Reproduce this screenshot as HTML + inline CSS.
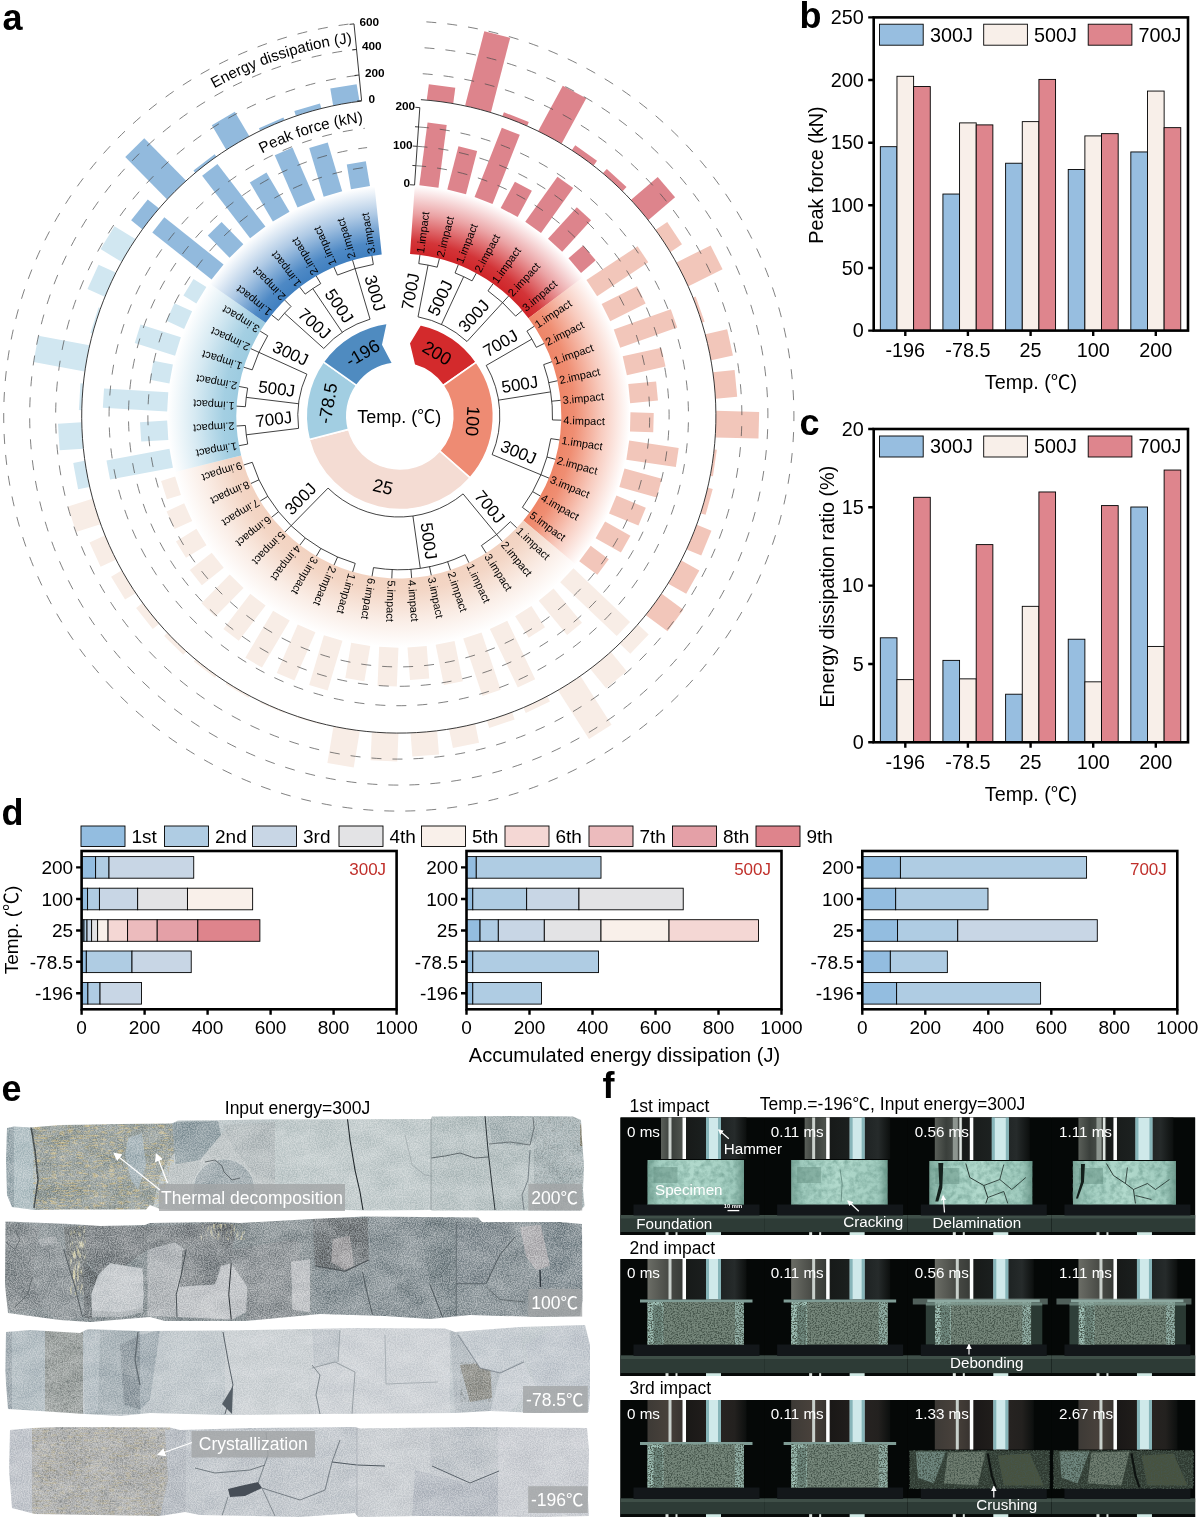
<!DOCTYPE html>
<html lang="en"><head><meta charset="utf-8"><title>Figure</title>
<style>
html,body{margin:0;padding:0;background:#fff}
svg{display:block}
svg text{font-family:'Liberation Sans', 'Noto Sans CJK SC', sans-serif }
</style></head><body>
<svg width="1200" height="1522" viewBox="0 0 1200 1522" font-family="'Liberation Sans', 'Noto Sans CJK SC', sans-serif">
<rect width="1200" height="1522" fill="#fff"/>
<g id="panelA">
<defs>
<radialGradient id="bg200" gradientUnits="userSpaceOnUse" cx="398.8" cy="416" r="231"><stop offset="0.7" stop-color="#cf2327"/><stop offset="0.76" stop-color="#cf2327" stop-opacity="0.92"/><stop offset="0.88" stop-color="#cf2327" stop-opacity="0.42"/><stop offset="1" stop-color="#cf2327" stop-opacity="0"/></radialGradient>
<radialGradient id="bg100" gradientUnits="userSpaceOnUse" cx="398.8" cy="416" r="231"><stop offset="0.7" stop-color="#ee8466"/><stop offset="0.76" stop-color="#ee8466" stop-opacity="0.92"/><stop offset="0.88" stop-color="#ee8466" stop-opacity="0.42"/><stop offset="1" stop-color="#ee8466" stop-opacity="0"/></radialGradient>
<radialGradient id="bg25" gradientUnits="userSpaceOnUse" cx="398.8" cy="416" r="231"><stop offset="0.7" stop-color="#f2d2c0"/><stop offset="0.76" stop-color="#f2d2c0" stop-opacity="0.92"/><stop offset="0.88" stop-color="#f2d2c0" stop-opacity="0.42"/><stop offset="1" stop-color="#f2d2c0" stop-opacity="0"/></radialGradient>
<radialGradient id="bgm78_5" gradientUnits="userSpaceOnUse" cx="398.8" cy="416" r="231"><stop offset="0.7" stop-color="#9ccbe0"/><stop offset="0.76" stop-color="#9ccbe0" stop-opacity="0.92"/><stop offset="0.88" stop-color="#9ccbe0" stop-opacity="0.42"/><stop offset="1" stop-color="#9ccbe0" stop-opacity="0"/></radialGradient>
<radialGradient id="bgm196" gradientUnits="userSpaceOnUse" cx="398.8" cy="416" r="231"><stop offset="0.7" stop-color="#3f7fc0"/><stop offset="0.76" stop-color="#3f7fc0" stop-opacity="0.92"/><stop offset="0.88" stop-color="#3f7fc0" stop-opacity="0.42"/><stop offset="1" stop-color="#3f7fc0" stop-opacity="0"/></radialGradient>
</defs>
<path d="M414.79 185.55A231 231 0 0 1 583.21 276.88L528.53 318.14A162.5 162.5 0 0 0 410.05 253.89Z" fill="url(#bg200)"/>
<path d="M583.21 276.88A231 231 0 0 1 575.83 564.39L523.34 520.39A162.5 162.5 0 0 0 528.53 318.14Z" fill="url(#bg100)"/>
<path d="M575.83 564.39A231 231 0 0 1 174.69 472L241.15 455.39A162.5 162.5 0 0 0 523.34 520.39Z" fill="url(#bg25)"/>
<path d="M174.69 472A231 231 0 0 1 209.51 283.6L265.64 322.86A162.5 162.5 0 0 0 241.15 455.39Z" fill="url(#bgm78_5)"/>
<path d="M209.51 283.6A231 231 0 0 1 374.53 186.28L381.73 254.4A162.5 162.5 0 0 0 265.64 322.86Z" fill="url(#bgm196)"/>
<g transform="translate(398.8 416) rotate(7.47)" fill="#dd848c"><rect x="-9.65" y="-294.74" width="19.3" height="63.24"/><rect x="-13.35" y="-332.83" width="26.7" height="15.73"/></g>
<g transform="translate(398.8 416) rotate(14.47)" fill="#dd848c"><rect x="-9.65" y="-276.12" width="19.3" height="44.62"/><rect x="-13.35" y="-393.93" width="26.7" height="76.83"/></g>
<g transform="translate(398.8 416) rotate(21.47)" fill="#dd848c"><rect x="-9.65" y="-306" width="19.3" height="74.5"/><rect x="-13.35" y="-321.13" width="26.7" height="4.03"/></g>
<g transform="translate(398.8 416) rotate(28.47)" fill="#dd848c"><rect x="-9.65" y="-261.38" width="19.3" height="29.88"/><rect x="-13.35" y="-368.58" width="26.7" height="51.48"/></g>
<g transform="translate(398.8 416) rotate(35.47)" fill="#dd848c"><rect x="-9.65" y="-286.98" width="19.3" height="55.48"/><rect x="-13.35" y="-322.82" width="26.7" height="5.72"/></g>
<g transform="translate(398.8 416) rotate(42.47)" fill="#dd848c"><rect x="-9.65" y="-274.18" width="19.3" height="42.68"/><rect x="-13.35" y="-322.69" width="26.7" height="5.59"/></g>
<g transform="translate(398.8 416) rotate(49.47)" fill="#dd848c"><rect x="-9.65" y="-250.9" width="19.3" height="19.4"/><rect x="-13.35" y="-352.07" width="26.7" height="34.97"/></g>
<g transform="translate(398.8 416) rotate(56.47)" fill="#f2c6ba"><rect x="-9.65" y="-292.8" width="19.3" height="61.3"/><rect x="-13.35" y="-330.88" width="26.7" height="13.78"/></g>
<g transform="translate(398.8 416) rotate(63.47)" fill="#f2c6ba"><rect x="-9.65" y="-271.08" width="19.3" height="39.58"/><rect x="-13.35" y="-355.19" width="26.7" height="38.09"/></g>
<g transform="translate(398.8 416) rotate(70.47)" fill="#f2c6ba"><rect x="-9.65" y="-292.03" width="19.3" height="60.53"/><rect x="-13.35" y="-319.7" width="26.7" height="2.6"/></g>
<g transform="translate(398.8 416) rotate(77.47)" fill="#f2c6ba"><rect x="-9.65" y="-271.08" width="19.3" height="39.58"/><rect x="-13.35" y="-339.33" width="26.7" height="22.23"/></g>
<g transform="translate(398.8 416) rotate(84.47)" fill="#f2c6ba"><rect x="-9.65" y="-259.44" width="19.3" height="27.94"/><rect x="-13.35" y="-338.68" width="26.7" height="21.58"/></g>
<g transform="translate(398.8 416) rotate(91.47)" fill="#f2c6ba"><rect x="-9.65" y="-254.78" width="19.3" height="23.28"/><rect x="-13.35" y="-360.13" width="26.7" height="43.03"/></g>
<g transform="translate(398.8 416) rotate(98.47)" fill="#f2c6ba"><rect x="-9.65" y="-281.55" width="19.3" height="50.05"/><rect x="-13.35" y="-319.57" width="26.7" height="2.47"/></g>
<g transform="translate(398.8 416) rotate(105.47)" fill="#f2c6ba"><rect x="-9.65" y="-270.3" width="19.3" height="38.8"/><rect x="-13.35" y="-322.04" width="26.7" height="4.94"/></g>
<g transform="translate(398.8 416) rotate(112.47)" fill="#f2c6ba"><rect x="-9.65" y="-263.32" width="19.3" height="31.82"/><rect x="-13.35" y="-332.83" width="26.7" height="15.73"/></g>
<g transform="translate(398.8 416) rotate(119.47)" fill="#f2c6ba"><rect x="-9.65" y="-260.6" width="19.3" height="29.1"/><rect x="-13.35" y="-337.64" width="26.7" height="20.54"/></g>
<g transform="translate(398.8 416) rotate(126.47)" fill="#f2c6ba"><rect x="-9.65" y="-254" width="19.3" height="22.5"/><rect x="-13.35" y="-344.01" width="26.7" height="26.91"/></g>
<g transform="translate(398.8 416) rotate(133.47)" fill="#f8ede6"><rect x="-9.65" y="-309.49" width="19.3" height="77.99"/><rect x="-13.35" y="-331.66" width="26.7" height="14.56"/></g>
<g transform="translate(398.8 416) rotate(140.47)" fill="#f8ede6"><rect x="-9.65" y="-276.12" width="19.3" height="44.62"/><rect x="-13.35" y="-341.93" width="26.7" height="24.83"/></g>
<g transform="translate(398.8 416) rotate(147.47)" fill="#f8ede6"><rect x="-9.65" y="-256.72" width="19.3" height="25.22"/><rect x="-13.35" y="-374.69" width="26.7" height="57.59"/></g>
<g transform="translate(398.8 416) rotate(154.47)" fill="#f8ede6"><rect x="-9.65" y="-296.3" width="19.3" height="64.8"/><rect x="-13.35" y="-322.69" width="26.7" height="5.59"/></g>
<g transform="translate(398.8 416) rotate(161.47)" fill="#f8ede6"><rect x="-9.65" y="-292.03" width="19.3" height="60.53"/><rect x="-13.35" y="-324.64" width="26.7" height="7.54"/></g>
<g transform="translate(398.8 416) rotate(168.47)" fill="#f8ede6"><rect x="-9.65" y="-272.63" width="19.3" height="41.13"/><rect x="-13.35" y="-336.08" width="26.7" height="18.98"/></g>
<g transform="translate(398.8 416) rotate(175.47)" fill="#f8ede6"><rect x="-9.65" y="-264.09" width="19.3" height="32.59"/><rect x="-13.35" y="-340.5" width="26.7" height="23.4"/></g>
<g transform="translate(398.8 416) rotate(182.47)" fill="#f8ede6"><rect x="-9.65" y="-270.3" width="19.3" height="38.8"/><rect x="-13.35" y="-345.18" width="26.7" height="28.08"/></g>
<g transform="translate(398.8 416) rotate(189.47)" fill="#f8ede6"><rect x="-9.65" y="-267.2" width="19.3" height="35.7"/><rect x="-13.35" y="-354.02" width="26.7" height="36.92"/></g>
<g transform="translate(398.8 416) rotate(196.47)" fill="#f8ede6"><rect x="-9.65" y="-283.49" width="19.3" height="51.99"/><rect x="-13.35" y="-318.09" width="26.7" height="0.99"/></g>
<g transform="translate(398.8 416) rotate(203.47)" fill="#f8ede6"><rect x="-9.65" y="-284.27" width="19.3" height="52.77"/><rect x="-13.35" y="-318.35" width="26.7" height="1.25"/></g>
<g transform="translate(398.8 416) rotate(210.47)" fill="#f8ede6"><rect x="-9.65" y="-286.21" width="19.3" height="54.71"/><rect x="-13.35" y="-319" width="26.7" height="1.9"/></g>
<g transform="translate(398.8 416) rotate(217.47)" fill="#f8ede6"><rect x="-9.65" y="-275.73" width="19.3" height="44.23"/><rect x="-13.35" y="-319.57" width="26.7" height="2.47"/></g>
<g transform="translate(398.8 416) rotate(224.47)" fill="#f8ede6"><rect x="-9.65" y="-271.85" width="19.3" height="40.35"/><rect x="-13.35" y="-321.39" width="26.7" height="4.29"/></g>
<g transform="translate(398.8 416) rotate(231.47)" fill="#f8ede6"><rect x="-9.65" y="-259.44" width="19.3" height="27.94"/><rect x="-13.35" y="-325.16" width="26.7" height="8.06"/></g>
<g transform="translate(398.8 416) rotate(238.47)" fill="#f8ede6"><rect x="-9.65" y="-255.56" width="19.3" height="24.06"/><rect x="-13.35" y="-329.32" width="26.7" height="12.22"/></g>
<g transform="translate(398.8 416) rotate(245.47)" fill="#f8ede6"><rect x="-9.65" y="-250.9" width="19.3" height="19.4"/><rect x="-13.35" y="-333.87" width="26.7" height="16.77"/></g>
<g transform="translate(398.8 416) rotate(252.47)" fill="#f8ede6"><rect x="-9.65" y="-246.24" width="19.3" height="14.74"/><rect x="-13.35" y="-342.71" width="26.7" height="25.61"/></g>
<g transform="translate(398.8 416) rotate(259.47)" fill="#d1e7f1"><rect x="-9.65" y="-295.52" width="19.3" height="64.02"/><rect x="-13.35" y="-328.67" width="26.7" height="11.57"/></g>
<g transform="translate(398.8 416) rotate(266.47)" fill="#d1e7f1"><rect x="-9.65" y="-258.66" width="19.3" height="27.16"/><rect x="-13.35" y="-340.63" width="26.7" height="23.53"/></g>
<g transform="translate(398.8 416) rotate(273.47)" fill="#d1e7f1"><rect x="-9.65" y="-295.91" width="19.3" height="64.41"/><rect x="-13.35" y="-319.7" width="26.7" height="2.6"/></g>
<g transform="translate(398.8 416) rotate(280.47)" fill="#d1e7f1"><rect x="-9.65" y="-251.29" width="19.3" height="19.79"/><rect x="-13.35" y="-368.97" width="26.7" height="51.87"/></g>
<g transform="translate(398.8 416) rotate(287.47)" fill="#d1e7f1"><rect x="-9.65" y="-273.79" width="19.3" height="42.29"/><rect x="-13.35" y="-319.05" width="26.7" height="1.95"/></g>
<g transform="translate(398.8 416) rotate(294.47)" fill="#d1e7f1"><rect x="-9.65" y="-250.9" width="19.3" height="19.4"/><rect x="-13.35" y="-335.95" width="26.7" height="18.85"/></g>
<g transform="translate(398.8 416) rotate(301.47)" fill="#d1e7f1"><rect x="-9.65" y="-246.63" width="19.3" height="15.13"/><rect x="-13.35" y="-341.54" width="26.7" height="24.44"/></g>
<g transform="translate(398.8 416) rotate(308.47)" fill="#92badd"><rect x="-9.65" y="-307.16" width="19.3" height="75.66"/><rect x="-13.35" y="-331.27" width="26.7" height="14.17"/></g>
<g transform="translate(398.8 416) rotate(315.47)" fill="#92badd"><rect x="-9.65" y="-262.54" width="19.3" height="31.04"/><rect x="-13.35" y="-376.51" width="26.7" height="59.41"/></g>
<g transform="translate(398.8 416) rotate(322.47)" fill="#92badd"><rect x="-9.65" y="-310.26" width="19.3" height="78.76"/><rect x="-13.35" y="-319.7" width="26.7" height="2.6"/></g>
<g transform="translate(398.8 416) rotate(329.47)" fill="#92badd"><rect x="-9.65" y="-276.9" width="19.3" height="45.4"/><rect x="-13.35" y="-345.44" width="26.7" height="28.34"/></g>
<g transform="translate(398.8 416) rotate(336.47)" fill="#92badd"><rect x="-9.65" y="-288.54" width="19.3" height="57.04"/><rect x="-13.35" y="-319.7" width="26.7" height="2.6"/></g>
<g transform="translate(398.8 416) rotate(343.47)" fill="#92badd"><rect x="-9.65" y="-282.33" width="19.3" height="50.83"/><rect x="-13.35" y="-322.11" width="26.7" height="5"/></g>
<g transform="translate(398.8 416) rotate(350.47)" fill="#92badd"><rect x="-9.65" y="-256.72" width="19.3" height="25.22"/><rect x="-13.35" y="-334.2" width="26.7" height="17.09"/></g>
<g fill="none" stroke="#4a4a4a" stroke-width="0.7">
<path d="M416.3 165.71A250.9 250.9 0 1 1 369.35 166.83" stroke-dasharray="10 11"/>
<path d="M417.66 146.36A270.3 270.3 0 1 1 367.08 147.57" stroke-dasharray="10 11"/>
<path d="M419.01 127.01A289.7 289.7 0 1 1 364.8 128.3" stroke-dasharray="10 11"/>
<path d="M422.73 73.74A343.1 343.1 0 1 1 358.53 75.27" stroke-dasharray="10 11"/>
<path d="M424.55 47.8A369.1 369.1 0 1 1 355.48 49.45" stroke-dasharray="10 11"/>
<path d="M426.36 21.86A395.1 395.1 0 1 1 352.43 23.63" stroke-dasharray="10 11"/>
<path d="M420.92 99.67A317.1 317.1 0 1 1 361.58 101.09" stroke="#222" stroke-width="0.9"/>
</g>
<g stroke="#222" stroke-width="0.9" fill="none">
<path d="M361.6 100.6L354 23.9"/>
<path d="M361.6 100.6L357.12 101.05"/>
<path d="M359.07 75.03L354.59 75.49"/>
<path d="M356.53 49.47L352.06 49.92"/>
<path d="M354 23.9L349.52 24.35"/>
<path d="M414.55 185.04L419.82 107.62"/>
<path d="M414.55 185.04L410.06 184.73"/>
<path d="M415.87 165.68L412.37 165.44"/>
<path d="M417.18 146.33L412.69 146.02"/>
<path d="M418.5 126.97L415.01 126.73"/>
<path d="M419.82 107.62L415.33 107.31"/>
</g>
<text x="359.5" y="26.2" font-size="11.8" font-weight="bold">600</text>
<text x="362" y="50.2" font-size="11.8" font-weight="bold">400</text>
<text x="365" y="76.7" font-size="11.8" font-weight="bold">200</text>
<text x="368.5" y="103.2" font-size="11.8" font-weight="bold">0</text>
<text x="415.2" y="110" font-size="11.8" text-anchor="end" font-weight="bold">200</text>
<text x="412.6" y="148.8" font-size="11.8" text-anchor="end" font-weight="bold">100</text>
<text x="410" y="187.3" font-size="11.8" text-anchor="end" font-weight="bold">0</text>
<path id="cpE" d="M73.17 228A376 376 0 0 1 352.33 42.88" fill="none"/>
<path id="cpP" d="M142.46 268A296 296 0 0 1 363.24 122.14" fill="none"/>
<text font-size="15.2" text-anchor="end"><textPath href="#cpE" startOffset="100%">Energy dissipation (J)</textPath></text>
<text font-size="15.3" text-anchor="end"><textPath href="#cpP" startOffset="100%">Peak force (kN)</textPath></text>
<text transform="translate(416.21 292.56) rotate(-79.03)" font-size="17" text-anchor="middle">700J</text>
<text transform="translate(445.56 300.44) rotate(-65.03)" font-size="17" text-anchor="middle">500J</text>
<text transform="translate(478.14 319.84) rotate(-47.53)" font-size="17" text-anchor="middle">300J</text>
<text transform="translate(503.38 348.15) rotate(-30.03)" font-size="17" text-anchor="middle">700J</text>
<text transform="translate(520.75 390.14) rotate(-9.03)" font-size="17" text-anchor="middle">500J</text>
<text transform="translate(516.29 457.67) rotate(22.47)" font-size="17" text-anchor="middle">300J</text>
<text transform="translate(485.21 510.65) rotate(50.47)" font-size="17" text-anchor="middle">700J</text>
<text transform="translate(423.02 541.85) rotate(81.97)" font-size="17" text-anchor="middle">500J</text>
<text transform="translate(304.56 502.86) rotate(314.47)" font-size="17" text-anchor="middle">300J</text>
<text transform="translate(274.45 424.89) rotate(352.97)" font-size="17" text-anchor="middle">700J</text>
<text transform="translate(276 394.54) rotate(366.97)" font-size="17" text-anchor="middle">500J</text>
<text transform="translate(288.13 358.6) rotate(384.47)" font-size="17" text-anchor="middle">300J</text>
<text transform="translate(310.51 327.98) rotate(401.97)" font-size="17" text-anchor="middle">700J</text>
<text transform="translate(334.43 309.24) rotate(415.97)" font-size="17" text-anchor="middle">500J</text>
<text transform="translate(369.51 294.82) rotate(433.47)" font-size="17" text-anchor="middle">300J</text>
<path d="M419.93 254.88L418.78 263.6M439.4 258.65L437.21 267.18M418.78 263.6A153.7 153.7 0 0 1 437.21 267.18M428.05 265.11L418.02 316.85M458.28 264.78L455.06 272.97M476.26 273.15L472.07 280.89M455.06 272.97A153.7 153.7 0 0 1 472.07 280.89M463.68 276.67L441.44 324.44M493.09 283.66L487.99 290.82M508.52 296.13L502.58 302.63M522.31 310.4L515.62 316.12M487.99 290.82A153.7 153.7 0 0 1 515.62 316.12M502.58 302.63L467 341.5M418.02 316.85A101 101 0 0 1 467 341.5M534.26 326.24L526.92 331.1M544.19 343.42L536.32 347.35M526.92 331.1A153.7 153.7 0 0 1 536.32 347.35M531.87 339.08L486.24 365.45M551.95 361.68L543.66 364.62M557.43 380.75L548.84 382.65M560.54 400.34L551.78 401.19M561.25 420.17L552.45 419.94M543.66 364.62A153.7 153.7 0 0 1 552.45 419.94M550.6 391.88L498.55 400.15M559.53 439.93L550.82 438.64M555.41 459.34L546.93 457M548.96 478.11L540.83 474.74M540.27 495.94L532.61 491.62M529.48 512.59L522.4 507.36M550.82 438.64A153.7 153.7 0 0 1 522.4 507.36M540.83 474.74L492.13 454.6M486.24 365.45A101 101 0 0 1 492.13 454.6M516.73 527.8L510.35 521.74M502.23 541.33L496.63 534.55M486.18 553.01L481.45 545.59M510.35 521.74A153.7 153.7 0 0 1 481.45 545.59M496.63 534.55L463.08 493.9M468.83 562.63L465.04 554.69M450.44 570.08L447.65 561.73M431.28 575.22L429.52 566.6M411.63 577.99L410.94 569.22M391.8 578.35L392.18 569.56M372.06 576.29L373.51 567.61M465.04 554.69A153.7 153.7 0 0 1 373.51 567.61M420.27 568.19L412.91 516.01M352.73 571.83L355.22 563.39M334.08 565.06L337.59 556.98M316.4 556.06L320.86 548.47M299.94 544.97L305.3 537.99M284.96 531.96L291.13 525.68M271.68 517.23L278.56 511.74M260.29 500.98L267.79 496.38M250.97 483.47L258.97 479.81M243.85 464.95L252.24 462.3M355.22 563.39A153.7 153.7 0 0 1 252.24 462.3M291.13 525.68L328.05 488.08M463.08 493.9A101 101 0 0 1 328.05 488.08M239.04 445.7L247.69 444.09M236.61 426.01L245.39 425.46M247.69 444.09A153.7 153.7 0 0 1 245.39 425.46M246.26 434.81L298.56 428.36M236.6 406.16L245.38 406.7M239.01 386.47L247.66 388.07M245.38 406.7A153.7 153.7 0 0 1 247.66 388.07M246.24 397.35L298.55 403.74M243.8 367.22L252.19 369.86M250.9 348.69L258.91 352.33M260.2 331.17L267.71 335.76M252.19 369.86A153.7 153.7 0 0 1 267.71 335.76M258.91 352.33L306.87 374.16M298.56 428.36A101 101 0 0 1 306.87 374.16M271.57 314.91L278.46 320.38M284.84 300.16L291.01 306.43M278.46 320.38A153.7 153.7 0 0 1 291.01 306.43M284.52 313.21L323.71 348.46M299.81 287.13L305.17 294.11M316.25 276.03L320.72 283.61M305.17 294.11A153.7 153.7 0 0 1 320.72 283.61M312.79 288.62L342.28 332.3M333.93 267.01L337.44 275.08M352.57 260.22L355.07 268.65M371.9 255.74L373.35 264.42M337.44 275.08A153.7 153.7 0 0 1 373.35 264.42M355.07 268.65L370.06 319.17M323.71 348.46A101 101 0 0 1 370.06 319.17" fill="none" stroke="#111" stroke-width="0.8"/>
<text transform="translate(424.05 253.4) rotate(-82.53)" font-size="11">1.impact</text>
<text transform="translate(443.68 257.69) rotate(-75.53)" font-size="11">2.impact</text>
<text transform="translate(462.64 264.34) rotate(-68.53)" font-size="11">1.impact</text>
<text transform="translate(480.65 273.25) rotate(-61.53)" font-size="11">2.impact</text>
<text transform="translate(497.43 284.29) rotate(-54.53)" font-size="11">1.impact</text>
<text transform="translate(512.75 297.29) rotate(-47.53)" font-size="11">2.impact</text>
<text transform="translate(526.37 312.06) rotate(-40.53)" font-size="11">3.impact</text>
<text transform="translate(538.08 328.39) rotate(-33.53)" font-size="11">1.impact</text>
<text transform="translate(547.72 346.01) rotate(-26.53)" font-size="11">2.impact</text>
<text transform="translate(555.14 364.68) rotate(-19.53)" font-size="11">1.impact</text>
<text transform="translate(560.23 384.12) rotate(-12.53)" font-size="11">2.impact</text>
<text transform="translate(562.91 404.03) rotate(-5.53)" font-size="11">3.impact</text>
<text transform="translate(563.15 424.12) rotate(1.47)" font-size="11">4.impact</text>
<text transform="translate(560.93 444.09) rotate(8.47)" font-size="11">1.impact</text>
<text transform="translate(556.3 463.64) rotate(15.47)" font-size="11">2.impact</text>
<text transform="translate(549.32 482.48) rotate(22.47)" font-size="11">3.impact</text>
<text transform="translate(540.1 500.32) rotate(29.47)" font-size="11">4.impact</text>
<text transform="translate(528.77 516.92) rotate(36.47)" font-size="11">5.impact</text>
<text transform="translate(515.5 532) rotate(43.47)" font-size="11">1.impact</text>
<text transform="translate(500.49 545.36) rotate(50.47)" font-size="11">2.impact</text>
<text transform="translate(483.97 556.79) rotate(57.47)" font-size="11">3.impact</text>
<text transform="translate(466.18 566.12) rotate(64.47)" font-size="11">1.impact</text>
<text transform="translate(447.38 573.21) rotate(71.47)" font-size="11">2.impact</text>
<text transform="translate(427.86 577.96) rotate(78.47)" font-size="11">3.impact</text>
<text transform="translate(407.9 580.29) rotate(85.47)" font-size="11">4.impact</text>
<text transform="translate(387.81 580.18) rotate(92.47)" font-size="11">5.impact</text>
<text transform="translate(367.89 577.62) rotate(99.47)" font-size="11">6.impact</text>
<text transform="translate(348.42 572.64) rotate(106.47)" font-size="11">1.impact</text>
<text transform="translate(329.71 565.34) rotate(113.47)" font-size="11">2.impact</text>
<text transform="translate(312.02 555.8) rotate(120.47)" font-size="11">3.impact</text>
<text transform="translate(295.63 544.19) rotate(127.47)" font-size="11">4.impact</text>
<text transform="translate(280.78 530.66) rotate(134.47)" font-size="11">5.impact</text>
<text transform="translate(267.69 515.42) rotate(141.47)" font-size="11">6.impact</text>
<text transform="translate(256.55 498.7) rotate(148.47)" font-size="11">7.impact</text>
<text transform="translate(247.53 480.75) rotate(155.47)" font-size="11">8.impact</text>
<text transform="translate(240.76 461.83) rotate(162.47)" font-size="11">9.impact</text>
<text transform="translate(236.36 442.23) rotate(169.47)" font-size="11">1.impact</text>
<text transform="translate(234.37 422.24) rotate(176.47)" font-size="11">2.impact</text>
<text transform="translate(234.84 402.15) rotate(183.47)" font-size="11">1.impact</text>
<text transform="translate(237.75 382.27) rotate(190.47)" font-size="11">2.impact</text>
<text transform="translate(243.06 362.9) rotate(197.47)" font-size="11">1.impact</text>
<text transform="translate(250.69 344.31) rotate(204.47)" font-size="11">2.impact</text>
<text transform="translate(260.53 326.8) rotate(211.47)" font-size="11">3.impact</text>
<text transform="translate(272.43 310.61) rotate(218.47)" font-size="11">1.impact</text>
<text transform="translate(286.22 296) rotate(225.47)" font-size="11">2.impact</text>
<text transform="translate(301.68 283.17) rotate(232.47)" font-size="11">1.impact</text>
<text transform="translate(318.6 272.32) rotate(239.47)" font-size="11">2.impact</text>
<text transform="translate(336.7 263.62) rotate(246.47)" font-size="11">1.impact</text>
<text transform="translate(355.74 257.19) rotate(253.47)" font-size="11">2.impact</text>
<text transform="translate(375.41 253.12) rotate(260.47)" font-size="11">3.impact</text>
<path d="M409.11 343.29L420.38 324.69A93.6 93.6 0 0 1 476.38 362.18L443.16 385.52A53 53 0 0 0 414.32 365.03Z" fill="#d32a2c" stroke="#fff" stroke-width="1.6" stroke-linejoin="miter"/>
<path d="M476.38 362.18A93.6 93.6 0 0 1 470.12 477.78L439.62 450.98A53 53 0 0 0 443.16 385.52Z" fill="#ee8b73" stroke="#fff" stroke-width="1.6" stroke-linejoin="miter"/>
<path d="M470.12 477.78A93.6 93.6 0 0 1 309.22 439.59L348.51 429.36A53 53 0 0 0 439.62 450.98Z" fill="#f4dcd3" stroke="#fff" stroke-width="1.6" stroke-linejoin="miter"/>
<path d="M309.22 439.59A93.6 93.6 0 0 1 323.41 361.91L356.54 385.37A53 53 0 0 0 348.51 429.36Z" fill="#a2cee2" stroke="#fff" stroke-width="1.6" stroke-linejoin="miter"/>
<path d="M323.41 361.91A93.6 93.6 0 0 1 387.42 323.22L382.81 344.7L392.7 363.48A53 53 0 0 0 356.54 385.37Z" fill="#4f8bc0" stroke="#fff" stroke-width="1.6" stroke-linejoin="miter"/>
<text transform="translate(433.85 358.42) rotate(30.6)" font-size="18" text-anchor="middle">200</text>
<text transform="translate(466.54 420.67) rotate(94)" font-size="18" text-anchor="middle">100</text>
<text transform="translate(381.38 492.72) rotate(13.5)" font-size="18" text-anchor="middle">25</text>
<text transform="translate(333.92 404.38) rotate(280)" font-size="18" text-anchor="middle">-78.5</text>
<text transform="translate(365.85 358.36) rotate(329.5)" font-size="18" text-anchor="middle">-196</text>
<text x="399.3" y="423.3" font-size="18" text-anchor="middle">Temp. (℃)</text>
<text x="2.5" y="29.5" font-size="36" font-weight="bold">a</text>
</g>
<g>
<rect x="880.32" y="146.69" width="16.65" height="183.91" fill="#97bee0" stroke="#000" stroke-width="0.9"/>
<rect x="896.97" y="76.28" width="16.65" height="254.32" fill="#f8efe9" stroke="#000" stroke-width="0.9"/>
<rect x="913.62" y="86.55" width="16.65" height="244.05" fill="#de858d" stroke="#000" stroke-width="0.9"/>
<rect x="942.92" y="194.04" width="16.65" height="136.56" fill="#97bee0" stroke="#000" stroke-width="0.9"/>
<rect x="959.57" y="122.89" width="16.65" height="207.71" fill="#f8efe9" stroke="#000" stroke-width="0.9"/>
<rect x="976.22" y="124.89" width="16.65" height="205.71" fill="#de858d" stroke="#000" stroke-width="0.9"/>
<rect x="1005.62" y="163.23" width="16.65" height="167.37" fill="#97bee0" stroke="#000" stroke-width="0.9"/>
<rect x="1022.27" y="121.63" width="16.65" height="208.97" fill="#f8efe9" stroke="#000" stroke-width="0.9"/>
<rect x="1038.92" y="79.41" width="16.65" height="251.19" fill="#de858d" stroke="#000" stroke-width="0.9"/>
<rect x="1068.23" y="169.49" width="16.65" height="161.11" fill="#97bee0" stroke="#000" stroke-width="0.9"/>
<rect x="1084.88" y="135.91" width="16.65" height="194.69" fill="#f8efe9" stroke="#000" stroke-width="0.9"/>
<rect x="1101.53" y="133.66" width="16.65" height="196.94" fill="#de858d" stroke="#000" stroke-width="0.9"/>
<rect x="1130.83" y="151.95" width="16.65" height="178.65" fill="#97bee0" stroke="#000" stroke-width="0.9"/>
<rect x="1147.48" y="91.06" width="16.65" height="239.54" fill="#f8efe9" stroke="#000" stroke-width="0.9"/>
<rect x="1164.12" y="127.65" width="16.65" height="202.95" fill="#de858d" stroke="#000" stroke-width="0.9"/>
<rect x="873.7" y="17.4" width="314.3" height="313.2" fill="none" stroke="#000" stroke-width="2.6"/>
<text x="863.7" y="337.4" font-size="19.8" text-anchor="end">0</text>
<text x="863.7" y="274.76" font-size="19.8" text-anchor="end">50</text>
<text x="863.7" y="212.12" font-size="19.8" text-anchor="end">100</text>
<text x="863.7" y="149.48" font-size="19.8" text-anchor="end">150</text>
<text x="863.7" y="86.84" font-size="19.8" text-anchor="end">200</text>
<text x="863.7" y="24.2" font-size="19.8" text-anchor="end">250</text>
<text x="905.3" y="356.9" font-size="19.8" text-anchor="middle">-196</text>
<text x="967.9" y="356.9" font-size="19.8" text-anchor="middle">-78.5</text>
<text x="1030.6" y="356.9" font-size="19.8" text-anchor="middle">25</text>
<text x="1093.2" y="356.9" font-size="19.8" text-anchor="middle">100</text>
<text x="1155.8" y="356.9" font-size="19.8" text-anchor="middle">200</text>
<path d="M873.7 330.6h-5.5M873.7 267.96h-5.5M873.7 205.32h-5.5M873.7 142.68h-5.5M873.7 80.04h-5.5M873.7 17.4h-5.5M905.3 330.6v5.5M967.9 330.6v5.5M1030.6 330.6v5.5M1093.2 330.6v5.5M1155.8 330.6v5.5" stroke="#000" stroke-width="2.4" fill="none"/>
<text x="1031" y="388.9" font-size="19.8" text-anchor="middle">Temp. (℃)</text>
<text transform="translate(822.5 175) rotate(-90)" font-size="19.8" text-anchor="middle">Peak force (kN)</text>
<rect x="879.5" y="24.2" width="43.7" height="21" fill="#97bee0" stroke="#000" stroke-width="0.9"/>
<text x="930" y="41.6" font-size="19.8">300J</text>
<rect x="983.7" y="24.2" width="43.7" height="21" fill="#f8efe9" stroke="#000" stroke-width="0.9"/>
<text x="1034" y="41.6" font-size="19.8">500J</text>
<rect x="1088.2" y="24.2" width="43.7" height="21" fill="#de858d" stroke="#000" stroke-width="0.9"/>
<text x="1138.5" y="41.6" font-size="19.8">700J</text>
<text x="799.5" y="27.5" font-size="36" font-weight="bold">b</text>
</g>
<g>
<rect x="880.32" y="637.81" width="16.65" height="104.49" fill="#97bee0" stroke="#000" stroke-width="0.9"/>
<rect x="896.97" y="679.64" width="16.65" height="62.66" fill="#f8efe9" stroke="#000" stroke-width="0.9"/>
<rect x="913.62" y="497.3" width="16.65" height="245" fill="#de858d" stroke="#000" stroke-width="0.9"/>
<rect x="942.92" y="660.37" width="16.65" height="81.93" fill="#97bee0" stroke="#000" stroke-width="0.9"/>
<rect x="959.57" y="678.86" width="16.65" height="63.44" fill="#f8efe9" stroke="#000" stroke-width="0.9"/>
<rect x="976.22" y="544.61" width="16.65" height="197.69" fill="#de858d" stroke="#000" stroke-width="0.9"/>
<rect x="1005.62" y="694.21" width="16.65" height="48.09" fill="#97bee0" stroke="#000" stroke-width="0.9"/>
<rect x="1022.27" y="606.33" width="16.65" height="135.97" fill="#f8efe9" stroke="#000" stroke-width="0.9"/>
<rect x="1038.92" y="491.97" width="16.65" height="250.33" fill="#de858d" stroke="#000" stroke-width="0.9"/>
<rect x="1068.23" y="639.22" width="16.65" height="103.08" fill="#97bee0" stroke="#000" stroke-width="0.9"/>
<rect x="1084.88" y="681.83" width="16.65" height="60.47" fill="#f8efe9" stroke="#000" stroke-width="0.9"/>
<rect x="1101.53" y="505.6" width="16.65" height="236.7" fill="#de858d" stroke="#000" stroke-width="0.9"/>
<rect x="1130.83" y="507.01" width="16.65" height="235.29" fill="#97bee0" stroke="#000" stroke-width="0.9"/>
<rect x="1147.48" y="646.43" width="16.65" height="95.87" fill="#f8efe9" stroke="#000" stroke-width="0.9"/>
<rect x="1164.12" y="470.04" width="16.65" height="272.26" fill="#de858d" stroke="#000" stroke-width="0.9"/>
<rect x="873.7" y="429" width="314.3" height="313.3" fill="none" stroke="#000" stroke-width="2.6"/>
<text x="863.7" y="749.1" font-size="19.8" text-anchor="end">0</text>
<text x="863.7" y="670.77" font-size="19.8" text-anchor="end">5</text>
<text x="863.7" y="592.45" font-size="19.8" text-anchor="end">10</text>
<text x="863.7" y="514.12" font-size="19.8" text-anchor="end">15</text>
<text x="863.7" y="435.8" font-size="19.8" text-anchor="end">20</text>
<text x="905.3" y="768.6" font-size="19.8" text-anchor="middle">-196</text>
<text x="967.9" y="768.6" font-size="19.8" text-anchor="middle">-78.5</text>
<text x="1030.6" y="768.6" font-size="19.8" text-anchor="middle">25</text>
<text x="1093.2" y="768.6" font-size="19.8" text-anchor="middle">100</text>
<text x="1155.8" y="768.6" font-size="19.8" text-anchor="middle">200</text>
<path d="M873.7 742.3h-5.5M873.7 663.97h-5.5M873.7 585.65h-5.5M873.7 507.32h-5.5M873.7 429h-5.5M905.3 742.3v5.5M967.9 742.3v5.5M1030.6 742.3v5.5M1093.2 742.3v5.5M1155.8 742.3v5.5" stroke="#000" stroke-width="2.4" fill="none"/>
<text x="1031" y="800.6" font-size="19.8" text-anchor="middle">Temp. (℃)</text>
<text transform="translate(833.5 586.65) rotate(-90)" font-size="19.8" text-anchor="middle">Energy dissipation ratio (%)</text>
<rect x="879.5" y="436" width="43.7" height="21" fill="#97bee0" stroke="#000" stroke-width="0.9"/>
<text x="930" y="453.4" font-size="19.8">300J</text>
<rect x="983.7" y="436" width="43.7" height="21" fill="#f8efe9" stroke="#000" stroke-width="0.9"/>
<text x="1034" y="453.4" font-size="19.8">500J</text>
<rect x="1088.2" y="436" width="43.7" height="21" fill="#de858d" stroke="#000" stroke-width="0.9"/>
<text x="1138.5" y="453.4" font-size="19.8">700J</text>
<text x="799.5" y="434.5" font-size="36" font-weight="bold">c</text>
</g>
<g>
<rect x="81" y="826" width="44" height="20.5" fill="#93bde0" stroke="#000" stroke-width="0.9"/>
<text x="131.5" y="843.2" font-size="19">1st</text>
<rect x="164.5" y="826" width="44" height="20.5" fill="#afcce3" stroke="#000" stroke-width="0.9"/>
<text x="215" y="843.2" font-size="19">2nd</text>
<rect x="252.5" y="826" width="44" height="20.5" fill="#c8d6e5" stroke="#000" stroke-width="0.9"/>
<text x="303" y="843.2" font-size="19">3rd</text>
<rect x="339" y="826" width="44" height="20.5" fill="#e3e3e5" stroke="#000" stroke-width="0.9"/>
<text x="389.5" y="843.2" font-size="19">4th</text>
<rect x="421.5" y="826" width="44" height="20.5" fill="#f9f0ea" stroke="#000" stroke-width="0.9"/>
<text x="472" y="843.2" font-size="19">5th</text>
<rect x="505" y="826" width="44" height="20.5" fill="#f4d7d4" stroke="#000" stroke-width="0.9"/>
<text x="555.5" y="843.2" font-size="19">6th</text>
<rect x="589" y="826" width="44" height="20.5" fill="#ecbbbd" stroke="#000" stroke-width="0.9"/>
<text x="639.5" y="843.2" font-size="19">7th</text>
<rect x="672.5" y="826" width="44" height="20.5" fill="#e4a0a7" stroke="#000" stroke-width="0.9"/>
<text x="723" y="843.2" font-size="19">8th</text>
<rect x="756" y="826" width="44" height="20.5" fill="#de848c" stroke="#000" stroke-width="0.9"/>
<text x="806.5" y="843.2" font-size="19">9th</text>
<rect x="81.6" y="856.6" width="14.02" height="21.6" fill="#93bde0" stroke="#000" stroke-width="0.9"/>
<rect x="95.62" y="856.6" width="13.39" height="21.6" fill="#afcce3" stroke="#000" stroke-width="0.9"/>
<rect x="109" y="856.6" width="84.73" height="21.6" fill="#c8d6e5" stroke="#000" stroke-width="0.9"/>
<rect x="81.6" y="888.2" width="5.99" height="21.6" fill="#93bde0" stroke="#000" stroke-width="0.9"/>
<rect x="87.58" y="888.2" width="11.84" height="21.6" fill="#afcce3" stroke="#000" stroke-width="0.9"/>
<rect x="99.43" y="888.2" width="38.24" height="21.6" fill="#c8d6e5" stroke="#000" stroke-width="0.9"/>
<rect x="137.67" y="888.2" width="49.77" height="21.6" fill="#e3e3e5" stroke="#000" stroke-width="0.9"/>
<rect x="187.44" y="888.2" width="65.2" height="21.6" fill="#f9f0ea" stroke="#000" stroke-width="0.9"/>
<rect x="81.6" y="919.7" width="2.39" height="21.6" fill="#93bde0" stroke="#000" stroke-width="0.9"/>
<rect x="83.99" y="919.7" width="3.02" height="21.6" fill="#afcce3" stroke="#000" stroke-width="0.9"/>
<rect x="87.02" y="919.7" width="4.6" height="21.6" fill="#c8d6e5" stroke="#000" stroke-width="0.9"/>
<rect x="91.62" y="919.7" width="6.02" height="21.6" fill="#e3e3e5" stroke="#000" stroke-width="0.9"/>
<rect x="97.63" y="919.7" width="10.43" height="21.6" fill="#f9f0ea" stroke="#000" stroke-width="0.9"/>
<rect x="108.06" y="919.7" width="19.53" height="21.6" fill="#f4d7d4" stroke="#000" stroke-width="0.9"/>
<rect x="127.59" y="919.7" width="29.61" height="21.6" fill="#ecbbbd" stroke="#000" stroke-width="0.9"/>
<rect x="157.2" y="919.7" width="40.63" height="21.6" fill="#e4a0a7" stroke="#000" stroke-width="0.9"/>
<rect x="197.83" y="919.7" width="62.05" height="21.6" fill="#de848c" stroke="#000" stroke-width="0.9"/>
<rect x="81.6" y="951" width="4.72" height="21.6" fill="#93bde0" stroke="#000" stroke-width="0.9"/>
<rect x="86.32" y="951" width="45.67" height="21.6" fill="#afcce3" stroke="#000" stroke-width="0.9"/>
<rect x="132" y="951" width="59.22" height="21.6" fill="#c8d6e5" stroke="#000" stroke-width="0.9"/>
<rect x="81.6" y="982.5" width="6.3" height="21.6" fill="#93bde0" stroke="#000" stroke-width="0.9"/>
<rect x="87.9" y="982.5" width="12.13" height="21.6" fill="#afcce3" stroke="#000" stroke-width="0.9"/>
<rect x="100.03" y="982.5" width="41.42" height="21.6" fill="#c8d6e5" stroke="#000" stroke-width="0.9"/>
<rect x="81.6" y="851" width="315" height="158.3" fill="none" stroke="#000" stroke-width="2.6"/>
<text x="73.1" y="874.2" font-size="19" text-anchor="end">200</text>
<text x="73.1" y="905.8" font-size="19" text-anchor="end">100</text>
<text x="73.1" y="937.3" font-size="19" text-anchor="end">25</text>
<text x="73.1" y="968.6" font-size="19" text-anchor="end">-78.5</text>
<text x="73.1" y="1000.1" font-size="19" text-anchor="end">-196</text>
<text x="81.6" y="1033.9" font-size="19" text-anchor="middle">0</text>
<text x="144.6" y="1033.9" font-size="19" text-anchor="middle">200</text>
<text x="207.6" y="1033.9" font-size="19" text-anchor="middle">400</text>
<text x="270.6" y="1033.9" font-size="19" text-anchor="middle">600</text>
<text x="333.6" y="1033.9" font-size="19" text-anchor="middle">800</text>
<text x="396.6" y="1033.9" font-size="19" text-anchor="middle">1000</text>
<path d="M81.6 867.4h-5.5M81.6 899h-5.5M81.6 930.5h-5.5M81.6 961.8h-5.5M81.6 993.3h-5.5M81.6 1009.3v5.5M144.6 1009.3v5.5M207.6 1009.3v5.5M270.6 1009.3v5.5M333.6 1009.3v5.5M396.6 1009.3v5.5" stroke="#000" stroke-width="2.4" fill="none"/>
<text x="386.1" y="875" font-size="17" text-anchor="end" fill="#c0302b">300J</text>
<rect x="466.5" y="856.6" width="9.77" height="21.6" fill="#93bde0" stroke="#000" stroke-width="0.9"/>
<rect x="476.26" y="856.6" width="124.74" height="21.6" fill="#afcce3" stroke="#000" stroke-width="0.9"/>
<rect x="466.5" y="888.2" width="6.3" height="21.6" fill="#93bde0" stroke="#000" stroke-width="0.9"/>
<rect x="472.8" y="888.2" width="53.87" height="21.6" fill="#afcce3" stroke="#000" stroke-width="0.9"/>
<rect x="526.66" y="888.2" width="52.29" height="21.6" fill="#c8d6e5" stroke="#000" stroke-width="0.9"/>
<rect x="578.96" y="888.2" width="104.27" height="21.6" fill="#e3e3e5" stroke="#000" stroke-width="0.9"/>
<rect x="466.5" y="919.7" width="13.54" height="21.6" fill="#93bde0" stroke="#000" stroke-width="0.9"/>
<rect x="480.05" y="919.7" width="18.27" height="21.6" fill="#afcce3" stroke="#000" stroke-width="0.9"/>
<rect x="498.31" y="919.7" width="45.99" height="21.6" fill="#c8d6e5" stroke="#000" stroke-width="0.9"/>
<rect x="544.31" y="919.7" width="56.7" height="21.6" fill="#e3e3e5" stroke="#000" stroke-width="0.9"/>
<rect x="601" y="919.7" width="68.04" height="21.6" fill="#f9f0ea" stroke="#000" stroke-width="0.9"/>
<rect x="669.04" y="919.7" width="89.46" height="21.6" fill="#f4d7d4" stroke="#000" stroke-width="0.9"/>
<rect x="466.5" y="951" width="6.3" height="21.6" fill="#93bde0" stroke="#000" stroke-width="0.9"/>
<rect x="472.8" y="951" width="125.69" height="21.6" fill="#afcce3" stroke="#000" stroke-width="0.9"/>
<rect x="466.5" y="982.5" width="6.3" height="21.6" fill="#93bde0" stroke="#000" stroke-width="0.9"/>
<rect x="472.8" y="982.5" width="68.67" height="21.6" fill="#afcce3" stroke="#000" stroke-width="0.9"/>
<rect x="466.5" y="851" width="315" height="158.3" fill="none" stroke="#000" stroke-width="2.6"/>
<text x="458" y="874.2" font-size="19" text-anchor="end">200</text>
<text x="458" y="905.8" font-size="19" text-anchor="end">100</text>
<text x="458" y="937.3" font-size="19" text-anchor="end">25</text>
<text x="458" y="968.6" font-size="19" text-anchor="end">-78.5</text>
<text x="458" y="1000.1" font-size="19" text-anchor="end">-196</text>
<text x="466.5" y="1033.9" font-size="19" text-anchor="middle">0</text>
<text x="529.5" y="1033.9" font-size="19" text-anchor="middle">200</text>
<text x="592.5" y="1033.9" font-size="19" text-anchor="middle">400</text>
<text x="655.5" y="1033.9" font-size="19" text-anchor="middle">600</text>
<text x="718.5" y="1033.9" font-size="19" text-anchor="middle">800</text>
<text x="781.5" y="1033.9" font-size="19" text-anchor="middle">1000</text>
<path d="M466.5 867.4h-5.5M466.5 899h-5.5M466.5 930.5h-5.5M466.5 961.8h-5.5M466.5 993.3h-5.5M466.5 1009.3v5.5M529.5 1009.3v5.5M592.5 1009.3v5.5M655.5 1009.3v5.5M718.5 1009.3v5.5M781.5 1009.3v5.5" stroke="#000" stroke-width="2.4" fill="none"/>
<text x="771" y="875" font-size="17" text-anchor="end" fill="#c0302b">500J</text>
<rect x="862.3" y="856.6" width="38.12" height="21.6" fill="#93bde0" stroke="#000" stroke-width="0.9"/>
<rect x="900.41" y="856.6" width="186.16" height="21.6" fill="#afcce3" stroke="#000" stroke-width="0.9"/>
<rect x="862.3" y="888.2" width="33.39" height="21.6" fill="#93bde0" stroke="#000" stroke-width="0.9"/>
<rect x="895.69" y="888.2" width="92.3" height="21.6" fill="#afcce3" stroke="#000" stroke-width="0.9"/>
<rect x="862.3" y="919.7" width="35.28" height="21.6" fill="#93bde0" stroke="#000" stroke-width="0.9"/>
<rect x="897.58" y="919.7" width="60.16" height="21.6" fill="#afcce3" stroke="#000" stroke-width="0.9"/>
<rect x="957.75" y="919.7" width="139.54" height="21.6" fill="#c8d6e5" stroke="#000" stroke-width="0.9"/>
<rect x="862.3" y="951" width="28.04" height="21.6" fill="#93bde0" stroke="#000" stroke-width="0.9"/>
<rect x="890.33" y="951" width="57.02" height="21.6" fill="#afcce3" stroke="#000" stroke-width="0.9"/>
<rect x="862.3" y="982.5" width="34.34" height="21.6" fill="#93bde0" stroke="#000" stroke-width="0.9"/>
<rect x="896.63" y="982.5" width="143.96" height="21.6" fill="#afcce3" stroke="#000" stroke-width="0.9"/>
<rect x="862.3" y="851" width="315" height="158.3" fill="none" stroke="#000" stroke-width="2.6"/>
<text x="853.8" y="874.2" font-size="19" text-anchor="end">200</text>
<text x="853.8" y="905.8" font-size="19" text-anchor="end">100</text>
<text x="853.8" y="937.3" font-size="19" text-anchor="end">25</text>
<text x="853.8" y="968.6" font-size="19" text-anchor="end">-78.5</text>
<text x="853.8" y="1000.1" font-size="19" text-anchor="end">-196</text>
<text x="862.3" y="1033.9" font-size="19" text-anchor="middle">0</text>
<text x="925.3" y="1033.9" font-size="19" text-anchor="middle">200</text>
<text x="988.3" y="1033.9" font-size="19" text-anchor="middle">400</text>
<text x="1051.3" y="1033.9" font-size="19" text-anchor="middle">600</text>
<text x="1114.3" y="1033.9" font-size="19" text-anchor="middle">800</text>
<text x="1177.3" y="1033.9" font-size="19" text-anchor="middle">1000</text>
<path d="M862.3 867.4h-5.5M862.3 899h-5.5M862.3 930.5h-5.5M862.3 961.8h-5.5M862.3 993.3h-5.5M862.3 1009.3v5.5M925.3 1009.3v5.5M988.3 1009.3v5.5M1051.3 1009.3v5.5M1114.3 1009.3v5.5M1177.3 1009.3v5.5" stroke="#000" stroke-width="2.4" fill="none"/>
<text x="1166.8" y="875" font-size="17" text-anchor="end" fill="#c0302b">700J</text>
<text transform="translate(18 930) rotate(-90)" font-size="19" text-anchor="middle">Temp. (℃)</text>
<text x="624.5" y="1061.5" font-size="20" text-anchor="middle">Accumulated energy dissipation (J)</text>
<text x="1.5" y="824.5" font-size="36" font-weight="bold">d</text>
</g>
<g>
<defs><filter id="grain" x="0" y="0" width="100%" height="100%" color-interpolation-filters="sRGB"><feTurbulence type="fractalNoise" baseFrequency="0.85" numOctaves="3" seed="3"/><feColorMatrix type="matrix" values="2.4 0 0 0 -0.7  2.4 0 0 0 -0.7  2.4 0 0 0 -0.7  0 0 0 0 1"/></filter><filter id="shade" x="0" y="0" width="100%" height="100%" color-interpolation-filters="sRGB"><feTurbulence type="fractalNoise" baseFrequency="0.035 0.06" numOctaves="3" seed="9"/><feColorMatrix type="matrix" values="2.0 0 0 0 -0.5  2.0 0 0 0 -0.5  2.0 0 0 0 -0.5  0 0 0 0 1"/></filter><filter id="fib" x="0" y="0" width="100%" height="100%"><feTurbulence type="turbulence" baseFrequency="0.12 0.4" numOctaves="2" seed="5"/><feColorMatrix type="matrix" values="0 0 0 0 0.66  0 0 0 0 0.55  0 0 0 0 0.3  2.6 0 0 0 -0.55"/></filter><filter id="fibv" x="0" y="0" width="100%" height="100%"><feTurbulence type="turbulence" baseFrequency="0.3 0.1" numOctaves="2" seed="7"/><feColorMatrix type="matrix" values="0 0 0 0 0.78  0 0 0 0 0.74  0 0 0 0 0.5  2.6 0 0 0 -0.6"/></filter><filter id="rough" x="0" y="0" width="100%" height="100%"><feTurbulence type="turbulence" baseFrequency="0.25 0.3" numOctaves="3" seed="13"/><feColorMatrix type="matrix" values="0 0 0 0 0.2  0 0 0 0 0.22  0 0 0 0 0.22  2.2 0 0 0 -0.35"/></filter></defs>
<clipPath id="c1"><polygon points="7,1128 14,1126.5 31,1127.5 60,1125 120,1124 172,1123.5 178,1120.5 235,1120 262,1119.5 431,1119 432,1116.5 520,1116 573,1116.5 581,1120 582,1140 584,1165 583,1190 584.5,1206 580,1210.5 500,1210.5 432,1210.5 431,1210 365,1210.5 345,1210 175,1210 160,1209 150,1205 146,1209.5 60,1209.5 35,1210 12,1207 7,1195 6,1160" fill="#000"/></clipPath><g clip-path="url(#c1)">
<rect x="0" y="1110" width="600" height="105" fill="#c0c9cb"/>
<rect x="6" y="1115" width="29" height="100" fill="#b4c2c6"/>
<rect x="6" y="1115" width="8" height="100" fill="#9fadb2"/>
<polygon points="31,1126 172,1122 176,1150 160,1175 152,1212 35,1212 38,1180 33,1150" fill="#9ea7a5"/>
<rect x="33" y="1122" width="141" height="90" fill="#a58c58" filter="url(#fib)" opacity="0.8"/>
<rect x="33" y="1122" width="141" height="90" fill="#333" filter="url(#rough)" opacity="0.3"/>
<polyline points="31,1127 35,1150 38,1180 34,1208" fill="none" stroke="#4a5254" stroke-width="1.6" stroke-linejoin="round"/>
<polygon points="128,1138 142,1133 146,1165 138,1190 131,1180 125,1155" fill="#acb9be"/>
<polygon points="172,1122 218,1121 222,1140 200,1165 176,1168" fill="#9aa7ac"/>
<polygon points="170,1165 200,1160 225,1130 275,1122 300,1125 300,1212 160,1212" fill="#c3c9ca"/>
<polygon points="222,1125 275,1122 278,1180 255,1175 235,1150" fill="#b1b9ba" opacity="0.6"/>
<path d="M193 1190A31 31 0 0 1 255 1190L255 1212L193 1212Z" fill="#a9b3b7" stroke="#cdd3d4" stroke-width="1.2"/>
<rect x="275" y="1116" width="156" height="96" fill="#c4cdce"/>
<rect x="431" y="1114" width="154" height="98" fill="#bbc5c6"/>
<polygon points="487,1116 533,1116 534,1142 520,1146 492,1143" fill="#adb8ba"/>
<rect x="534" y="1116" width="51" height="96" fill="#b1bcbe"/>
<rect x="534" y="1116" width="51" height="96" fill="#556" filter="url(#rough)" opacity="0.25"/>
<rect x="580" y="1124" width="5" height="22" fill="#8d8c7e"/>
<rect x="0" y="1110" width="600" height="105" fill="#808080" filter="url(#shade)" style="mix-blend-mode:overlay" opacity="0.12"/><rect x="0" y="1110" width="600" height="105" fill="#808080" filter="url(#grain)" style="mix-blend-mode:overlay" opacity="0.22"/>
<polyline points="347.5,1119 350,1140 355,1170 360,1192 363,1210" fill="none" stroke="#20272b" stroke-width="1.1" stroke-linejoin="round"/>
<polyline points="485,1116 488,1150 492,1185 495,1210" fill="none" stroke="#2b3337" stroke-width="1.0" stroke-linejoin="round"/>
<polyline points="431,1158 445,1156 460,1153 475,1158 488,1157" fill="none" stroke="#4a5357" stroke-width="0.8" stroke-linejoin="round"/>
<polyline points="489,1144 510,1142 530,1145 534,1128 533,1117" fill="none" stroke="#5a6367" stroke-width="0.8" stroke-linejoin="round"/>
<polyline points="530,1150 528,1180 522,1195 524,1210" fill="none" stroke="#59636a" stroke-width="0.7" stroke-linejoin="round"/>
<polyline points="205,1162 215,1160 222,1166 224,1172 232,1180 240,1178" fill="none" stroke="#50585c" stroke-width="0.8" stroke-linejoin="round"/>
<polyline points="405,1135 412,1165 425,1175 431,1176" fill="none" stroke="#929c9f" stroke-width="0.6" stroke-linejoin="round"/>
<polyline points="431,1116 431,1212" fill="none" stroke="#8d979a" stroke-width="0.8" stroke-linejoin="round"/>
</g>
<clipPath id="c2"><polygon points="5.5,1221.5 20,1222 70,1224 100,1226 145,1225 150,1223 215,1222 240,1223 312,1219 365,1216.5 478,1217.5 482,1222 560,1222 582,1224 582.5,1300 580,1316 540,1317 470,1315 430,1319 385,1316 320,1314 245,1321 165,1321 150,1317 90,1322 60,1320 8,1313 5,1285" fill="#000"/></clipPath><g clip-path="url(#c2)">
<rect x="0" y="1214" width="600" height="110" fill="#939b9e"/>
<polygon points="5.5,1222 40,1227 37.5,1239.5 32.5,1277 42.5,1307 15,1312 5.5,1307" fill="#8f9598"/>
<polygon points="37.5,1239.5 53.75,1235.75 63.75,1249.5 75,1287 82.5,1317 57.5,1320.75 42.5,1307 32.5,1277" fill="#999fa2"/>
<polygon points="37.5,1239.5 53.75,1235.75 57.5,1242 41.25,1247" fill="#a9aeb1"/>
<polygon points="63.75,1227 86.25,1225.75 87.5,1294.5 75,1287 66.25,1254.5" fill="#868b8c"/>
<rect x="70" y="1226" width="18" height="69" fill="#c9bf86" filter="url(#fibv)" opacity="0.85"/>
<polygon points="85,1224.5 147.5,1227 147.5,1249.5 125,1265.75 110,1263.25 98.75,1274.5 87.5,1262" fill="#878c8f"/>
<polygon points="83.75,1262 98.75,1274.5 91.25,1294.5 92.5,1319.5 83.75,1317" fill="#7b8184"/>
<polygon points="92.5,1317 91.25,1294.5 98.75,1274.5 110,1263.25 125,1265.75 142.5,1268.25 143.75,1294.5 142.5,1312 120,1317" fill="#c8cccf"/>
<polygon points="92.5,1317 93,1310.75 120,1312 142.5,1308.25 142.5,1312 120,1317" fill="#b4b9bc"/>
<polygon points="147.5,1249.5 175,1242 185,1249.5 180,1287 176.25,1317 147.5,1315.75" fill="#b5b9bc"/>
<polygon points="147.5,1227 212.5,1223.25 235,1224.5 232.5,1249.5 185,1249.5 175,1242 147.5,1249.5" fill="#8a8f92"/>
<polygon points="212.5,1223.25 232.5,1224.5 235,1239.5 226.25,1249.5 215,1239.5" fill="#787d80"/>
<rect x="200" y="1224" width="45" height="16" fill="#c9bf86" filter="url(#fibv)" opacity="0.7"/>
<polygon points="182.5,1249.5 232.5,1249.5 231.25,1263.25 221.25,1265.75 215,1284.5 180,1287" fill="#8d9295"/>
<polygon points="176.25,1287 215,1284.5 221.25,1265.75 231.25,1263.25 247.5,1287 246.25,1312 232.5,1319.5 176.25,1317" fill="#c4c7ca"/>
<polygon points="232.5,1249.5 292.5,1239.5 300,1242 300,1319.5 246.25,1319.5 247.5,1287 231.25,1263.25" fill="#979c9f"/>
<polygon points="291.25,1262 310,1259.5 310,1312 292.5,1309.5" fill="#bfc2c5"/>
<rect x="312" y="1214" width="288" height="110" fill="#929b9f"/>
<polygon points="291.25,1262 310,1259.5 310,1312 292.5,1309.5" fill="#bfc2c5"/>
<polygon points="312.5,1217 367.5,1218.25 368.75,1259.5 345,1270.75 315,1265.75" fill="#7f8487"/>
<polygon points="312.5,1217 367.5,1218.25 368.75,1259.5 345,1270.75 315,1265.75" fill="#222" filter="url(#rough)" opacity="0.35"/>
<polygon points="332.5,1239.5 350,1235.75 353.75,1265.75 345,1270 331.25,1262" fill="#a5a4a6"/>
<polygon points="402.5,1284.5 407.5,1258.25 417.5,1253.25 430,1282 417.5,1289.5" fill="#949da1"/>
<polygon points="425,1219.5 455,1222 456.25,1315.75 442.5,1317 430,1284.5 422.5,1242" fill="#899397"/>
<polygon points="456.25,1224.5 515,1223.25 500,1254.5 486.25,1283.25 456.25,1283.25" fill="#8c959a"/>
<polygon points="456.25,1284.5 486.25,1284.5 490,1312 456.25,1314.5" fill="#949da1"/>
<polygon points="520,1227 543.75,1224.5 550,1265.75 536.25,1270 526.25,1257" fill="#b3b2b5"/>
<polygon points="540,1222 582.5,1224.5 582.5,1287 541.25,1287 540,1270 550,1265.75" fill="#8d979c"/>
<rect x="0" y="1214" width="600" height="110" fill="#808080" filter="url(#shade)" style="mix-blend-mode:overlay" opacity="0.12"/><rect x="0" y="1214" width="600" height="110" fill="#808080" filter="url(#grain)" style="mix-blend-mode:overlay" opacity="0.25"/>
<polyline points="231.25,1263.25 228.75,1294.5 231.25,1319.5" fill="none" stroke="#2c3236" stroke-width="1.0" stroke-linejoin="round"/>
<polyline points="186.25,1249.5 181.25,1274.5 176.25,1294.5 177,1317" fill="none" stroke="#3c4448" stroke-width="0.9" stroke-linejoin="round"/>
<polyline points="5.5,1242 15,1249.5 20,1239.5 15,1229.5" fill="none" stroke="#5d6468" stroke-width="0.8" stroke-linejoin="round"/>
<polyline points="32.5,1277 27.5,1294.5 15,1307" fill="none" stroke="#5d6468" stroke-width="0.8" stroke-linejoin="round"/>
<polyline points="63.75,1249.5 75,1287 82.5,1317" fill="none" stroke="#555c60" stroke-width="1.0" stroke-linejoin="round"/>
<polyline points="456.25,1222 456.25,1315.75" fill="none" stroke="#5e686d" stroke-width="0.9" stroke-linejoin="round"/>
<polyline points="456.25,1283.75 486.25,1283.75" fill="none" stroke="#5a6368" stroke-width="1.0" stroke-linejoin="round"/>
<polyline points="486.25,1283.25 500,1254.5 515,1237" fill="none" stroke="#4b5458" stroke-width="0.9" stroke-linejoin="round"/>
<polyline points="486.25,1287 500,1299.5 525,1302" fill="none" stroke="#586165" stroke-width="0.8" stroke-linejoin="round"/>
<polyline points="362.5,1272 367.5,1294.5 372.5,1314.5" fill="none" stroke="#4b5458" stroke-width="0.9" stroke-linejoin="round"/>
<polyline points="540,1270 540.5,1287" fill="none" stroke="#2d353c" stroke-width="1.4" stroke-linejoin="round"/>
<polyline points="315,1265.75 345,1271.25 368.75,1260" fill="none" stroke="#4a5054" stroke-width="1.2" stroke-linejoin="round"/>
<polyline points="430,1284.5 442.5,1317" fill="none" stroke="#4e575c" stroke-width="1.0" stroke-linejoin="round"/>
</g>
<clipPath id="c3"><polygon points="6,1332 30,1330 80,1333 88,1329 140,1331 220,1330.5 310,1329 350,1328 445,1328.5 455,1332 520,1327 585,1325 590,1345 590,1395 588.5,1412 540,1413 490,1411 455,1413 320,1414 225,1415 150,1413 120,1416 85,1414 40,1411 8,1409 5,1370" fill="#000"/></clipPath><g clip-path="url(#c3)">
<rect x="0" y="1320" width="600" height="100" fill="#c6cdd1"/>
<rect x="6" y="1328" width="39" height="88" fill="#b6c0c5"/>
<rect x="6" y="1328" width="6" height="88" fill="#a3adb3"/>
<rect x="45" y="1330" width="38" height="84" fill="#a6aba9"/>
<rect x="45" y="1330" width="38" height="84" fill="#333" filter="url(#rough)" opacity="0.45"/>
<polygon points="83,1330 140,1331 145,1360 140,1414 85,1414" fill="#acb6bb"/>
<polygon points="120,1345 140,1335 142,1410 124,1405" fill="#96a0a6"/>
<polygon points="83,1330 100,1331 98,1412 85,1414" fill="#bac3c8"/>
<rect x="140" y="1328" width="85" height="88" fill="#c4cbcf"/>
<polygon points="140,1335 160,1330 150,1400 140,1410" fill="#aab4ba"/>
<rect x="225" y="1328" width="87" height="88" fill="#ced3d6"/>
<rect x="312" y="1326" width="138" height="90" fill="#d0d4d8"/>
<polygon points="312,1330 340,1330 338,1362 314,1366" fill="#c2c8cd"/>
<polygon points="450,1330 520,1327 525,1370 490,1412 455,1413" fill="#bac1c6"/>
<polygon points="460,1365 490,1362 492,1398 470,1402" fill="#9b9b95"/>
<polygon points="460,1365 490,1362 492,1398 470,1402" fill="#333" filter="url(#rough)" opacity="0.4"/>
<polygon points="458,1332 520,1326 524,1360 500,1372 480,1368" fill="#c8ced3"/>
<polygon points="525,1345 560,1325 590,1325 590,1412 535,1385" fill="#c5cbd1"/>
<polygon points="500,1374 524,1362 535,1386 510,1412 490,1412" fill="#cdd2d7"/>
<rect x="0" y="1320" width="600" height="100" fill="#808080" filter="url(#shade)" style="mix-blend-mode:overlay" opacity="0.1"/><rect x="0" y="1320" width="600" height="100" fill="#808080" filter="url(#grain)" style="mix-blend-mode:overlay" opacity="0.2"/>
<polyline points="223,1332 228,1360 233,1385 225,1414" fill="none" stroke="#4c555c" stroke-width="0.9" stroke-linejoin="round"/>
<polygon points="222,1404 233,1386 232,1414" fill="#555e66"/>
<polyline points="312,1365 320,1375 316,1395 320,1414" fill="none" stroke="#69737a" stroke-width="0.8" stroke-linejoin="round"/>
<polyline points="312,1368 335,1362 355,1372 352,1414" fill="none" stroke="#7e878d" stroke-width="0.7" stroke-linejoin="round"/>
<polyline points="340,1330 338,1362" fill="none" stroke="#8a9399" stroke-width="0.7" stroke-linejoin="round"/>
<polyline points="385,1335 386,1384 438,1382" fill="none" stroke="#98a0a6" stroke-width="0.7" stroke-linejoin="round"/>
<polyline points="138,1332 135,1360 140,1385" fill="none" stroke="#5f686e" stroke-width="1.2" stroke-linejoin="round"/>
<polyline points="524,1362 500,1373 480,1368 458,1335" fill="none" stroke="#78828a" stroke-width="0.8" stroke-linejoin="round"/>
</g>
<clipPath id="c4"><polygon points="10,1430 33,1428 60,1427 170,1427.5 180,1430 250,1428 355,1427 360,1428.5 470,1427 587,1428 589,1450 588,1500 589,1516 540,1517 420,1516 358,1517 355,1513 300,1517 200,1515 185,1512 160,1516 35,1514 12,1508 9,1470" fill="#000"/></clipPath><g clip-path="url(#c4)">
<rect x="0" y="1420" width="600" height="102" fill="#c7cbd0"/>
<rect x="10" y="1426" width="23" height="92" fill="#c3c7cd"/>
<rect x="32" y="1426" width="138" height="92" fill="#b6b7b7"/>
<rect x="32" y="1426" width="138" height="92" fill="#444" filter="url(#rough)" opacity="0.4"/>
<rect x="32" y="1426" width="138" height="92" fill="#8a8570" filter="url(#fib)" opacity="0.35"/>
<polygon points="165,1430 185,1428 190,1470 185,1514 160,1516 168,1480" fill="#bbc0c6"/>
<rect x="186" y="1426" width="171" height="92" fill="#c5cacf"/>
<rect x="357" y="1426" width="73" height="92" fill="#ccd0d4"/>
<polygon points="430,1428 500,1428 498,1470 470,1482 432,1465" fill="#c2c7cc"/>
<polygon points="415,1470 470,1484 500,1472 498,1516 412,1516" fill="#bbc0c7"/>
<rect x="498" y="1426" width="92" height="92" fill="#cdd0d5"/>
<rect x="0" y="1420" width="600" height="102" fill="#808080" filter="url(#shade)" style="mix-blend-mode:overlay" opacity="0.1"/><rect x="0" y="1420" width="600" height="102" fill="#808080" filter="url(#grain)" style="mix-blend-mode:overlay" opacity="0.22"/>
<polygon points="228,1489 240,1486 258,1482 262,1488 245,1496 230,1497" fill="#474e57"/>
<polyline points="195,1468 215,1473 250,1470 265,1465" fill="none" stroke="#5b646b" stroke-width="0.8" stroke-linejoin="round"/>
<polyline points="258,1483 268,1455 266,1432" fill="none" stroke="#6a737a" stroke-width="0.8" stroke-linejoin="round"/>
<polyline points="262,1488 300,1500 325,1490 332,1462 340,1440" fill="none" stroke="#616a71" stroke-width="0.8" stroke-linejoin="round"/>
<polyline points="332,1462 357,1465 385,1466" fill="none" stroke="#4f5860" stroke-width="1.0" stroke-linejoin="round"/>
<polyline points="228,1497 222,1516" fill="none" stroke="#727b82" stroke-width="0.8" stroke-linejoin="round"/>
<polyline points="262,1488 275,1516" fill="none" stroke="#727b82" stroke-width="0.8" stroke-linejoin="round"/>
<polyline points="432,1466 470,1483 499,1471" fill="none" stroke="#59626a" stroke-width="1.0" stroke-linejoin="round"/>
<polyline points="357,1428 357,1516" fill="none" stroke="#a9afb6" stroke-width="0.8" stroke-linejoin="round"/>
</g>
<rect x="528.3" y="1183.7" width="53.9" height="26.8" fill="#a2a4a5" fill-opacity="0.78"/><text x="554.6" y="1203.8" font-size="17.5" text-anchor="middle" fill="#fff">200℃</text>
<rect x="528.3" y="1289" width="53.9" height="27.6" fill="#a2a4a5" fill-opacity="0.78"/><text x="554.6" y="1309.2" font-size="17.5" text-anchor="middle" fill="#fff">100℃</text>
<rect x="523" y="1386" width="64.8" height="27" fill="#a2a4a5" fill-opacity="0.78"/><text x="554.8" y="1405.5" font-size="17.5" text-anchor="middle" fill="#fff">-78.5℃</text>
<rect x="528.2" y="1486.2" width="59.6" height="26.8" fill="#a2a4a5" fill-opacity="0.78"/><text x="557.2" y="1506.2" font-size="17.5" text-anchor="middle" fill="#fff">-196℃</text>
<rect x="159" y="1184" width="186" height="27" fill="#a2a4a5" fill-opacity="0.78"/><text x="252" y="1203.7" font-size="17.5" text-anchor="middle" fill="#fff">Thermal decomposition</text>
<rect x="191.5" y="1431" width="123.5" height="26.5" fill="#a2a4a5" fill-opacity="0.78"/><text x="253.25" y="1450.45" font-size="17.5" text-anchor="middle" fill="#fff">Crystallization</text>
<defs><marker id="aw" viewBox="0 0 10 10" refX="8" refY="5" markerWidth="6.5" markerHeight="6.5" orient="auto-start-reverse"><path d="M0 0L10 5L0 10z" fill="#fff"/></marker></defs>
<g stroke="#fff" stroke-width="1.3" fill="none" marker-end="url(#aw)"><path d="M160 1190L114.5 1153.5"/><path d="M167.5 1183L156.5 1154.5"/><path d="M192 1442.5L158.5 1454.5"/></g>
<text x="297.5" y="1113.5" font-size="17.5" text-anchor="middle">Input energy=300J</text>
<text x="1.5" y="1100.5" font-size="36" font-weight="bold">e</text>
</g>
<g>
<defs><linearGradient id="hamg" x1="0" x2="1" y1="0" y2="0"><stop offset="0" stop-color="#5a5f59"/><stop offset="0.12" stop-color="#3a3f3b"/><stop offset="0.24" stop-color="#4d524d"/><stop offset="0.3" stop-color="#171a19"/><stop offset="0.5" stop-color="#1b1f1e"/><stop offset="0.72" stop-color="#1f2424"/><stop offset="0.86" stop-color="#262b2b"/><stop offset="1" stop-color="#0c0f0e"/></linearGradient><linearGradient id="hamg2" x1="0" x2="1" y1="0" y2="0"><stop offset="0" stop-color="#6b6d66"/><stop offset="0.2" stop-color="#4a4c47"/><stop offset="0.34" stop-color="#3a3d39"/><stop offset="0.4" stop-color="#171a19"/><stop offset="0.58" stop-color="#1b1f1e"/><stop offset="0.76" stop-color="#1f2424"/><stop offset="0.88" stop-color="#262b2b"/><stop offset="1" stop-color="#0c0f0e"/></linearGradient><linearGradient id="hamg3" x1="0" x2="1" y1="0" y2="0"><stop offset="0" stop-color="#3d3a36"/><stop offset="0.2" stop-color="#48413b"/><stop offset="0.34" stop-color="#3a3531"/><stop offset="0.4" stop-color="#1a1817"/><stop offset="0.58" stop-color="#201d1b"/><stop offset="0.76" stop-color="#262321"/><stop offset="0.88" stop-color="#23211f"/><stop offset="1" stop-color="#0c0f0e"/></linearGradient><linearGradient id="spg" x1="0" x2="1" y1="0" y2="0"><stop offset="0" stop-color="#7aa598"/><stop offset="0.12" stop-color="#a2cdc0"/><stop offset="0.5" stop-color="#b2dacd"/><stop offset="0.9" stop-color="#a0cbbe"/><stop offset="1" stop-color="#6f9a8d"/></linearGradient><filter id="spn" x="0" y="0" width="100%" height="100%"><feTurbulence type="fractalNoise" baseFrequency="0.18" numOctaves="3" seed="4"/><feColorMatrix type="matrix" values="0 0 0 0 0.1  0 0 0 0 0.25  0 0 0 0 0.2  1.3 1.3 0 0 -1.05"/></filter><filter id="spk" x="0" y="0" width="100%" height="100%"><feTurbulence type="fractalNoise" baseFrequency="0.7" numOctaves="2" seed="11"/><feColorMatrix type="matrix" values="0 0 0 0 0.06  0 0 0 0 0.09  0 0 0 0 0.07  2.4 2.4 0 0 -2.1"/></filter></defs>
<rect x="620.5" y="1117.5" width="574.6" height="117.5" fill="#050807"/>
<g><rect x="620.5" y="1117.5" width="143.65" height="117.5" fill="#050807"/><rect x="661" y="1117.5" width="85.5" height="41.5" fill="url(#hamg)"/><rect x="668.5" y="1117.5" width="3" height="41.5" fill="#c9d0cb"/><rect x="682.5" y="1117.5" width="3.5" height="41.5" fill="#fdfefe"/><rect x="706" y="1117.5" width="15" height="41.5" fill="#cfe9ea"/><rect x="706" y="1117.5" width="3" height="41.5" fill="#6fa3a8" opacity="0.75"/><rect x="718" y="1117.5" width="3" height="41.5" fill="#6fa3a8" opacity="0.75"/><rect x="620.5" y="1215" width="143.65" height="17.2" fill="#2d3b36"/><rect x="620.5" y="1215" width="143.65" height="3.5" fill="#3f4f48"/><rect x="620.5" y="1232.2" width="143.65" height="2.8" fill="#060908"/><rect x="706" y="1232.2" width="15" height="2.8" fill="#cfe9e4"/><rect x="665.5" y="1232.2" width="3" height="2.8" fill="#dfe6e2"/><rect x="675.5" y="1232.2" width="2" height="2.8" fill="#dfe6e2"/><rect x="633.5" y="1204.5" width="126" height="11" fill="#13171a"/><rect x="647.5" y="1160" width="96.5" height="44.5" fill="url(#spg)"/><rect x="647.5" y="1160" width="96.5" height="44.5" fill="#000" filter="url(#spn)" opacity="0.55"/><rect x="653.5" y="1167" width="24" height="16" fill="#5f8a7d" opacity="0.45"/></g>
<g><rect x="764.15" y="1117.5" width="143.65" height="117.5" fill="#050807"/><rect x="804.65" y="1117.5" width="85.5" height="41.5" fill="url(#hamg)"/><rect x="812.15" y="1117.5" width="3" height="41.5" fill="#c9d0cb"/><rect x="826.15" y="1117.5" width="3.5" height="41.5" fill="#fdfefe"/><rect x="849.65" y="1117.5" width="15" height="41.5" fill="#cfe9ea"/><rect x="849.65" y="1117.5" width="3" height="41.5" fill="#6fa3a8" opacity="0.75"/><rect x="861.65" y="1117.5" width="3" height="41.5" fill="#6fa3a8" opacity="0.75"/><rect x="764.15" y="1215" width="143.65" height="17.2" fill="#2d3b36"/><rect x="764.15" y="1215" width="143.65" height="3.5" fill="#3f4f48"/><rect x="764.15" y="1232.2" width="143.65" height="2.8" fill="#060908"/><rect x="849.65" y="1232.2" width="15" height="2.8" fill="#cfe9e4"/><rect x="809.15" y="1232.2" width="3" height="2.8" fill="#dfe6e2"/><rect x="819.15" y="1232.2" width="2" height="2.8" fill="#dfe6e2"/><rect x="777.15" y="1204.5" width="126" height="11" fill="#13171a"/><rect x="791.15" y="1160" width="96.5" height="44.5" fill="url(#spg)"/><rect x="791.15" y="1160" width="96.5" height="44.5" fill="#000" filter="url(#spn)" opacity="0.55"/><rect x="797.15" y="1167" width="24" height="16" fill="#5f8a7d" opacity="0.45"/><polyline points="840.15,1169.5 842.15,1183.5 841.15,1201.5" fill="none" stroke="#5d8378" stroke-width="0.8" stroke-linejoin="round"/></g>
<g><rect x="907.8" y="1117.5" width="143.65" height="117.5" fill="#050807"/><rect x="934.8" y="1117.5" width="95" height="42.5" fill="url(#hamg)"/><rect x="952.8" y="1117.5" width="5" height="42.5" fill="#8d958f"/><rect x="959.3" y="1117.5" width="2.5" height="42.5" fill="#dfe6e2"/><rect x="969.8" y="1117.5" width="3.5" height="42.5" fill="#fdfefe"/><rect x="991.8" y="1117.5" width="17" height="42.5" fill="#cfe9ea"/><rect x="991.8" y="1117.5" width="3" height="42.5" fill="#6fa3a8" opacity="0.75"/><rect x="1005.8" y="1117.5" width="3" height="42.5" fill="#6fa3a8" opacity="0.75"/><rect x="907.8" y="1215" width="143.65" height="17.2" fill="#2d3b36"/><rect x="907.8" y="1215" width="143.65" height="3.5" fill="#3f4f48"/><rect x="907.8" y="1232.2" width="143.65" height="2.8" fill="#060908"/><rect x="993.3" y="1232.2" width="15" height="2.8" fill="#cfe9e4"/><rect x="952.8" y="1232.2" width="3" height="2.8" fill="#dfe6e2"/><rect x="962.8" y="1232.2" width="2" height="2.8" fill="#dfe6e2"/><rect x="920.8" y="1204.5" width="126" height="11" fill="#13171a"/><rect x="929.3" y="1161" width="103" height="43.5" fill="url(#spg)"/><rect x="929.3" y="1161" width="103" height="43.5" fill="#000" filter="url(#spn)" opacity="0.55"/><rect x="935.3" y="1168" width="24" height="16" fill="#5f8a7d" opacity="0.45"/><polygon points="938.3,1163 943.3,1163 942.3,1188 938.3,1201.5 935.3,1201.5 939.3,1185" fill="#14201c"/><polyline points="965.8,1163.5 969.8,1177.5 983.8,1185.5 987.8,1197.5 985.8,1203.5" fill="none" stroke="#1d2a26" stroke-width="0.9" stroke-linejoin="round"/><polyline points="983.8,1185.5 999.8,1179.5 1003.8,1164.5" fill="none" stroke="#1d2a26" stroke-width="0.8" stroke-linejoin="round"/><polyline points="999.8,1179.5 1011.8,1189.5 1025.8,1177.5" fill="none" stroke="#1d2a26" stroke-width="0.8" stroke-linejoin="round"/><polyline points="987.8,1197.5 1003.8,1191.5 1007.8,1203.5" fill="none" stroke="#1d2a26" stroke-width="0.8" stroke-linejoin="round"/></g>
<g><rect x="1051.45" y="1117.5" width="143.65" height="117.5" fill="#050807"/><rect x="1078.45" y="1117.5" width="95" height="42.5" fill="url(#hamg)"/><rect x="1096.45" y="1117.5" width="5" height="42.5" fill="#8d958f"/><rect x="1102.95" y="1117.5" width="2.5" height="42.5" fill="#dfe6e2"/><rect x="1113.45" y="1117.5" width="3.5" height="42.5" fill="#fdfefe"/><rect x="1135.45" y="1117.5" width="17" height="42.5" fill="#cfe9ea"/><rect x="1135.45" y="1117.5" width="3" height="42.5" fill="#6fa3a8" opacity="0.75"/><rect x="1149.45" y="1117.5" width="3" height="42.5" fill="#6fa3a8" opacity="0.75"/><rect x="1051.45" y="1215" width="143.65" height="17.2" fill="#2d3b36"/><rect x="1051.45" y="1215" width="143.65" height="3.5" fill="#3f4f48"/><rect x="1051.45" y="1232.2" width="143.65" height="2.8" fill="#060908"/><rect x="1136.95" y="1232.2" width="15" height="2.8" fill="#cfe9e4"/><rect x="1096.45" y="1232.2" width="3" height="2.8" fill="#dfe6e2"/><rect x="1106.45" y="1232.2" width="2" height="2.8" fill="#dfe6e2"/><rect x="1064.45" y="1204.5" width="126" height="11" fill="#13171a"/><rect x="1072.95" y="1161" width="103" height="43.5" fill="url(#spg)"/><rect x="1072.95" y="1161" width="103" height="43.5" fill="#000" filter="url(#spn)" opacity="0.55"/><rect x="1078.95" y="1168" width="24" height="16" fill="#5f8a7d" opacity="0.45"/><polygon points="1080.95,1164 1084.95,1164 1083.95,1182 1077.95,1198.5 1075.95,1198.5 1080.95,1182" fill="#14201c"/><polyline points="1106.45,1163.5 1113.45,1175.5 1125.45,1183.5 1133.45,1189.5 1135.45,1203.5" fill="none" stroke="#1d2a26" stroke-width="0.9" stroke-linejoin="round"/><polyline points="1133.45,1189.5 1147.45,1183.5 1155.45,1189.5 1169.45,1179.5" fill="none" stroke="#1d2a26" stroke-width="0.8" stroke-linejoin="round"/><polyline points="1125.45,1183.5 1127.45,1167.5" fill="none" stroke="#1d2a26" stroke-width="0.8" stroke-linejoin="round"/><polyline points="1135.45,1195.5 1151.45,1199.5" fill="none" stroke="#1d2a26" stroke-width="0.8" stroke-linejoin="round"/></g>
<rect x="620.5" y="1259" width="574.6" height="117" fill="#050807"/>
<g><rect x="620.5" y="1259" width="143.65" height="117" fill="#050807"/><rect x="647.5" y="1259" width="99" height="40.5" fill="url(#hamg2)"/><rect x="668.5" y="1259" width="3" height="40.5" fill="#c9d0cb"/><rect x="682.5" y="1259" width="3.5" height="40.5" fill="#fdfefe"/><rect x="706" y="1259" width="15" height="40.5" fill="#cfe9ea"/><rect x="706" y="1259" width="3" height="40.5" fill="#6fa3a8" opacity="0.75"/><rect x="718" y="1259" width="3" height="40.5" fill="#6fa3a8" opacity="0.75"/><rect x="620.5" y="1355.5" width="143.65" height="17.7" fill="#2d3b36"/><rect x="620.5" y="1355.5" width="143.65" height="3.5" fill="#3f4f48"/><rect x="620.5" y="1373.2" width="143.65" height="2.8" fill="#060908"/><rect x="706" y="1373.2" width="15" height="2.8" fill="#cfe9e4"/><rect x="665.5" y="1373.2" width="3" height="2.8" fill="#dfe6e2"/><rect x="675.5" y="1373.2" width="2" height="2.8" fill="#dfe6e2"/><rect x="633.5" y="1344.5" width="126" height="11.5" fill="#13171a"/><rect x="640" y="1299.5" width="112.5" height="3" fill="#7f9c95"/><rect x="647.5" y="1302" width="96.5" height="42.5" fill="#76877b"/><rect x="647.5" y="1302" width="16" height="42.5" fill="#9fbfb5"/><rect x="653.5" y="1305.5" width="9" height="39" fill="#5d7268" opacity="0.7"/><rect x="735" y="1302" width="9" height="42.5" fill="#93b0a7"/><rect x="647.5" y="1302" width="96.5" height="42.5" fill="#000" filter="url(#spk)"/></g>
<g><rect x="764.15" y="1259" width="143.65" height="117" fill="#050807"/><rect x="791.15" y="1259" width="99" height="40.5" fill="url(#hamg2)"/><rect x="812.15" y="1259" width="3" height="40.5" fill="#c9d0cb"/><rect x="826.15" y="1259" width="3.5" height="40.5" fill="#fdfefe"/><rect x="849.65" y="1259" width="15" height="40.5" fill="#cfe9ea"/><rect x="849.65" y="1259" width="3" height="40.5" fill="#6fa3a8" opacity="0.75"/><rect x="861.65" y="1259" width="3" height="40.5" fill="#6fa3a8" opacity="0.75"/><rect x="764.15" y="1355.5" width="143.65" height="17.7" fill="#2d3b36"/><rect x="764.15" y="1355.5" width="143.65" height="3.5" fill="#3f4f48"/><rect x="764.15" y="1373.2" width="143.65" height="2.8" fill="#060908"/><rect x="849.65" y="1373.2" width="15" height="2.8" fill="#cfe9e4"/><rect x="809.15" y="1373.2" width="3" height="2.8" fill="#dfe6e2"/><rect x="819.15" y="1373.2" width="2" height="2.8" fill="#dfe6e2"/><rect x="777.15" y="1344.5" width="126" height="11.5" fill="#13171a"/><rect x="783.65" y="1299.5" width="112.5" height="3" fill="#7f9c95"/><rect x="791.15" y="1302" width="96.5" height="42.5" fill="#76877b"/><rect x="791.15" y="1302" width="16" height="42.5" fill="#9fbfb5"/><rect x="797.15" y="1305.5" width="9" height="39" fill="#5d7268" opacity="0.7"/><rect x="878.65" y="1302" width="9" height="42.5" fill="#93b0a7"/><rect x="791.15" y="1302" width="96.5" height="42.5" fill="#000" filter="url(#spk)"/></g>
<g><rect x="907.8" y="1259" width="143.65" height="117" fill="#050807"/><rect x="934.8" y="1259" width="99" height="40.5" fill="url(#hamg2)"/><rect x="955.8" y="1259" width="3" height="40.5" fill="#c9d0cb"/><rect x="969.8" y="1259" width="3.5" height="40.5" fill="#fdfefe"/><rect x="993.3" y="1259" width="15" height="40.5" fill="#cfe9ea"/><rect x="993.3" y="1259" width="3" height="40.5" fill="#6fa3a8" opacity="0.75"/><rect x="1005.3" y="1259" width="3" height="40.5" fill="#6fa3a8" opacity="0.75"/><rect x="907.8" y="1355.5" width="143.65" height="17.7" fill="#2d3b36"/><rect x="907.8" y="1355.5" width="143.65" height="3.5" fill="#3f4f48"/><rect x="907.8" y="1373.2" width="143.65" height="2.8" fill="#060908"/><rect x="993.3" y="1373.2" width="15" height="2.8" fill="#cfe9e4"/><rect x="952.8" y="1373.2" width="3" height="2.8" fill="#dfe6e2"/><rect x="962.8" y="1373.2" width="2" height="2.8" fill="#dfe6e2"/><rect x="920.8" y="1344.5" width="126" height="11.5" fill="#13171a"/><rect x="927.3" y="1299.5" width="112.5" height="3" fill="#7f9c95"/><rect x="934.8" y="1302" width="96.5" height="42.5" fill="#76877b"/><rect x="934.8" y="1302" width="16" height="42.5" fill="#9fbfb5"/><rect x="940.8" y="1305.5" width="9" height="39" fill="#5d7268" opacity="0.7"/><rect x="1022.3" y="1302" width="9" height="42.5" fill="#93b0a7"/><rect x="934.8" y="1302" width="96.5" height="42.5" fill="#000" filter="url(#spk)"/><rect x="912.8" y="1298.5" width="135" height="6" fill="#9bb5ae" opacity="0.5"/><rect x="925.8" y="1302.5" width="9" height="42" fill="#2f3f39"/><rect x="1031.3" y="1302.5" width="11" height="42" fill="#2a3933"/><rect x="925.8" y="1302.5" width="116.5" height="3" fill="#7d9a90" opacity="0.7"/></g>
<g><rect x="1051.45" y="1259" width="143.65" height="117" fill="#050807"/><rect x="1078.45" y="1259" width="99" height="40.5" fill="url(#hamg2)"/><rect x="1099.45" y="1259" width="3" height="40.5" fill="#c9d0cb"/><rect x="1113.45" y="1259" width="3.5" height="40.5" fill="#fdfefe"/><rect x="1136.95" y="1259" width="15" height="40.5" fill="#cfe9ea"/><rect x="1136.95" y="1259" width="3" height="40.5" fill="#6fa3a8" opacity="0.75"/><rect x="1148.95" y="1259" width="3" height="40.5" fill="#6fa3a8" opacity="0.75"/><rect x="1051.45" y="1355.5" width="143.65" height="17.7" fill="#2d3b36"/><rect x="1051.45" y="1355.5" width="143.65" height="3.5" fill="#3f4f48"/><rect x="1051.45" y="1373.2" width="143.65" height="2.8" fill="#060908"/><rect x="1136.95" y="1373.2" width="15" height="2.8" fill="#cfe9e4"/><rect x="1096.45" y="1373.2" width="3" height="2.8" fill="#dfe6e2"/><rect x="1106.45" y="1373.2" width="2" height="2.8" fill="#dfe6e2"/><rect x="1064.45" y="1344.5" width="126" height="11.5" fill="#13171a"/><rect x="1070.95" y="1299.5" width="112.5" height="3" fill="#7f9c95"/><rect x="1078.45" y="1302" width="96.5" height="42.5" fill="#76877b"/><rect x="1078.45" y="1302" width="16" height="42.5" fill="#9fbfb5"/><rect x="1084.45" y="1305.5" width="9" height="39" fill="#5d7268" opacity="0.7"/><rect x="1165.95" y="1302" width="9" height="42.5" fill="#93b0a7"/><rect x="1078.45" y="1302" width="96.5" height="42.5" fill="#000" filter="url(#spk)"/><rect x="1056.45" y="1298.5" width="135" height="6" fill="#9bb5ae" opacity="0.5"/><rect x="1069.45" y="1302.5" width="9" height="42" fill="#2f3f39"/><rect x="1174.95" y="1302.5" width="11" height="42" fill="#2a3933"/><rect x="1069.45" y="1302.5" width="116.5" height="3" fill="#7d9a90" opacity="0.7"/></g>
<rect x="620.5" y="1400" width="574.6" height="117" fill="#050807"/>
<g><rect x="620.5" y="1400" width="143.65" height="117" fill="#050807"/><rect x="647.5" y="1400" width="99" height="42" fill="url(#hamg3)"/><rect x="668.5" y="1400" width="3" height="42" fill="#c9d0cb"/><rect x="682.5" y="1400" width="3.5" height="42" fill="#fdfefe"/><rect x="706" y="1400" width="15" height="42" fill="#cfe9ea"/><rect x="706" y="1400" width="3" height="42" fill="#6fa3a8" opacity="0.75"/><rect x="718" y="1400" width="3" height="42" fill="#6fa3a8" opacity="0.75"/><rect x="620.5" y="1498.5" width="143.65" height="15.7" fill="#2d3b36"/><rect x="620.5" y="1498.5" width="143.65" height="3.5" fill="#3f4f48"/><rect x="620.5" y="1514.2" width="143.65" height="2.8" fill="#060908"/><rect x="706" y="1514.2" width="15" height="2.8" fill="#cfe9e4"/><rect x="665.5" y="1514.2" width="3" height="2.8" fill="#dfe6e2"/><rect x="675.5" y="1514.2" width="2" height="2.8" fill="#dfe6e2"/><rect x="633.5" y="1487.5" width="126" height="11.5" fill="#13171a"/><rect x="640" y="1442" width="112.5" height="3" fill="#7f9c95"/><rect x="647.5" y="1444.5" width="96.5" height="43" fill="#76877b"/><rect x="647.5" y="1444.5" width="16" height="43" fill="#9fbfb5"/><rect x="653.5" y="1448" width="9" height="39.5" fill="#5d7268" opacity="0.7"/><rect x="735" y="1444.5" width="9" height="43" fill="#93b0a7"/><rect x="647.5" y="1444.5" width="96.5" height="43" fill="#000" filter="url(#spk)"/></g>
<g><rect x="764.15" y="1400" width="143.65" height="117" fill="#050807"/><rect x="791.15" y="1400" width="99" height="42" fill="url(#hamg3)"/><rect x="812.15" y="1400" width="3" height="42" fill="#c9d0cb"/><rect x="826.15" y="1400" width="3.5" height="42" fill="#fdfefe"/><rect x="849.65" y="1400" width="15" height="42" fill="#cfe9ea"/><rect x="849.65" y="1400" width="3" height="42" fill="#6fa3a8" opacity="0.75"/><rect x="861.65" y="1400" width="3" height="42" fill="#6fa3a8" opacity="0.75"/><rect x="764.15" y="1498.5" width="143.65" height="15.7" fill="#2d3b36"/><rect x="764.15" y="1498.5" width="143.65" height="3.5" fill="#3f4f48"/><rect x="764.15" y="1514.2" width="143.65" height="2.8" fill="#060908"/><rect x="849.65" y="1514.2" width="15" height="2.8" fill="#cfe9e4"/><rect x="809.15" y="1514.2" width="3" height="2.8" fill="#dfe6e2"/><rect x="819.15" y="1514.2" width="2" height="2.8" fill="#dfe6e2"/><rect x="777.15" y="1487.5" width="126" height="11.5" fill="#13171a"/><rect x="783.65" y="1442" width="112.5" height="3" fill="#7f9c95"/><rect x="791.15" y="1444.5" width="96.5" height="43" fill="#76877b"/><rect x="791.15" y="1444.5" width="16" height="43" fill="#9fbfb5"/><rect x="797.15" y="1448" width="9" height="39.5" fill="#5d7268" opacity="0.7"/><rect x="878.65" y="1444.5" width="9" height="43" fill="#93b0a7"/><rect x="791.15" y="1444.5" width="96.5" height="43" fill="#000" filter="url(#spk)"/></g>
<g><rect x="907.8" y="1400" width="143.65" height="117" fill="#050807"/><rect x="934.8" y="1400" width="99" height="49.5" fill="url(#hamg3)"/><rect x="955.8" y="1400" width="3" height="49.5" fill="#c9d0cb"/><rect x="969.8" y="1400" width="3.5" height="49.5" fill="#fdfefe"/><rect x="993.3" y="1400" width="15" height="49.5" fill="#cfe9ea"/><rect x="993.3" y="1400" width="3" height="49.5" fill="#6fa3a8" opacity="0.75"/><rect x="1005.3" y="1400" width="3" height="49.5" fill="#6fa3a8" opacity="0.75"/><rect x="907.8" y="1498.5" width="143.65" height="15.7" fill="#2d3b36"/><rect x="907.8" y="1498.5" width="143.65" height="3.5" fill="#3f4f48"/><rect x="907.8" y="1514.2" width="143.65" height="2.8" fill="#060908"/><rect x="993.3" y="1514.2" width="15" height="2.8" fill="#cfe9e4"/><rect x="952.8" y="1514.2" width="3" height="2.8" fill="#dfe6e2"/><rect x="962.8" y="1514.2" width="2" height="2.8" fill="#dfe6e2"/><rect x="920.8" y="1487.5" width="126" height="11.5" fill="#13171a"/><rect x="909.8" y="1450.5" width="139.65" height="38" fill="#2f3a31"/><polygon points="915.8,1451.5 945.8,1451.5 933.8,1483.5 917.8,1477.5" fill="#6f877f"/><polygon points="947.8,1452.5 985.8,1451.5 977.8,1485.5 943.8,1483.5" fill="#6f7d70"/><polygon points="997.8,1455.5 1029.8,1453.5 1043.8,1485.5 1003.8,1485.5" fill="#47523f"/><rect x="909.8" y="1450.5" width="139.65" height="38" fill="#000" filter="url(#spk)"/><polyline points="987.8,1453.5 991.8,1475.5 995.8,1487.5" fill="none" stroke="#0d1210" stroke-width="2.2" stroke-linejoin="round"/></g>
<g><rect x="1051.45" y="1400" width="143.65" height="117" fill="#050807"/><rect x="1078.45" y="1400" width="99" height="49.5" fill="url(#hamg3)"/><rect x="1099.45" y="1400" width="3" height="49.5" fill="#c9d0cb"/><rect x="1113.45" y="1400" width="3.5" height="49.5" fill="#fdfefe"/><rect x="1136.95" y="1400" width="15" height="49.5" fill="#cfe9ea"/><rect x="1136.95" y="1400" width="3" height="49.5" fill="#6fa3a8" opacity="0.75"/><rect x="1148.95" y="1400" width="3" height="49.5" fill="#6fa3a8" opacity="0.75"/><rect x="1051.45" y="1498.5" width="143.65" height="15.7" fill="#2d3b36"/><rect x="1051.45" y="1498.5" width="143.65" height="3.5" fill="#3f4f48"/><rect x="1051.45" y="1514.2" width="143.65" height="2.8" fill="#060908"/><rect x="1136.95" y="1514.2" width="15" height="2.8" fill="#cfe9e4"/><rect x="1096.45" y="1514.2" width="3" height="2.8" fill="#dfe6e2"/><rect x="1106.45" y="1514.2" width="2" height="2.8" fill="#dfe6e2"/><rect x="1064.45" y="1487.5" width="126" height="11.5" fill="#13171a"/><rect x="1053.45" y="1450.5" width="139.65" height="38" fill="#2f3a31"/><polygon points="1059.45,1451.5 1089.45,1451.5 1077.45,1483.5 1061.45,1477.5" fill="#6f877f"/><polygon points="1091.45,1452.5 1129.45,1451.5 1121.45,1485.5 1087.45,1483.5" fill="#6f7d70"/><polygon points="1141.45,1455.5 1173.45,1453.5 1187.45,1485.5 1147.45,1485.5" fill="#47523f"/><rect x="1053.45" y="1450.5" width="139.65" height="38" fill="#000" filter="url(#spk)"/><polyline points="1131.45,1453.5 1135.45,1475.5 1139.45,1487.5" fill="none" stroke="#0d1210" stroke-width="2.2" stroke-linejoin="round"/></g>
<text x="629.5" y="1112" font-size="17.5">1st impact</text>
<text x="629.5" y="1254" font-size="17.5">2nd impact</text>
<text x="629.5" y="1394" font-size="17.5">3rd impact</text>
<text x="892.5" y="1109.5" font-size="17.5" text-anchor="middle">Temp.=-196℃, Input energy=300J</text>
<text x="627" y="1137.4" font-size="15.2" fill="#fff">0 ms</text>
<text x="770.8" y="1137.4" font-size="15.2" fill="#fff">0.11 ms</text>
<text x="914.8" y="1137.4" font-size="15.2" fill="#fff">0.56 ms</text>
<text x="1059" y="1137.4" font-size="15.2" fill="#fff">1.11 ms</text>
<text x="627" y="1278.2" font-size="15.2" fill="#fff">0 ms</text>
<text x="770.8" y="1278.2" font-size="15.2" fill="#fff">0.11 ms</text>
<text x="914.8" y="1278.2" font-size="15.2" fill="#fff">0.56 ms</text>
<text x="1059" y="1278.2" font-size="15.2" fill="#fff">1.11 ms</text>
<text x="627" y="1419.3" font-size="15.2" fill="#fff">0 ms</text>
<text x="770.8" y="1419.3" font-size="15.2" fill="#fff">0.11 ms</text>
<text x="914.8" y="1419.3" font-size="15.2" fill="#fff">1.33 ms</text>
<text x="1059" y="1419.3" font-size="15.2" fill="#fff">2.67 ms</text>
<text x="723.8" y="1154.2" font-size="15.2" fill="#fff">Hammer</text>
<text x="655" y="1194.8" font-size="15.2" fill="#fff">Specimen</text>
<text x="636.3" y="1228.7" font-size="15.2" fill="#fff">Foundation</text>
<text x="843.3" y="1226.7" font-size="15.2" fill="#fff">Cracking</text>
<text x="932.5" y="1227.5" font-size="15.2" fill="#fff">Delamination</text>
<text x="950" y="1368" font-size="15.2" fill="#fff">Debonding</text>
<text x="976.3" y="1509.6" font-size="15.2" fill="#fff">Crushing</text>
<text x="733" y="1207.6" font-size="5.8" text-anchor="middle" font-weight="bold" fill="#fff">10 mm</text>
<path d="M727.5 1210.6h11.8" stroke="#fff" stroke-width="1.3"/>
<defs><marker id="aw2" viewBox="0 0 10 10" refX="8" refY="5" markerWidth="4.6" markerHeight="4.6" orient="auto-start-reverse"><path d="M0 0L10 5L0 10z" fill="#fff"/></marker></defs>
<g stroke="#fff" stroke-width="1.2" fill="none" marker-end="url(#aw2)"><path d="M728.8 1138.8L718.8 1130"/><path d="M858.8 1211.3L848 1201"/><path d="M944.5 1212.5L943.2 1196"/><path d="M969 1354.5L969 1344.5"/><path d="M993.8 1497.5L993.8 1486.5"/></g>
<text x="602.5" y="1097.5" font-size="36" font-weight="bold">f</text>
</g>
</svg>
</body></html>
